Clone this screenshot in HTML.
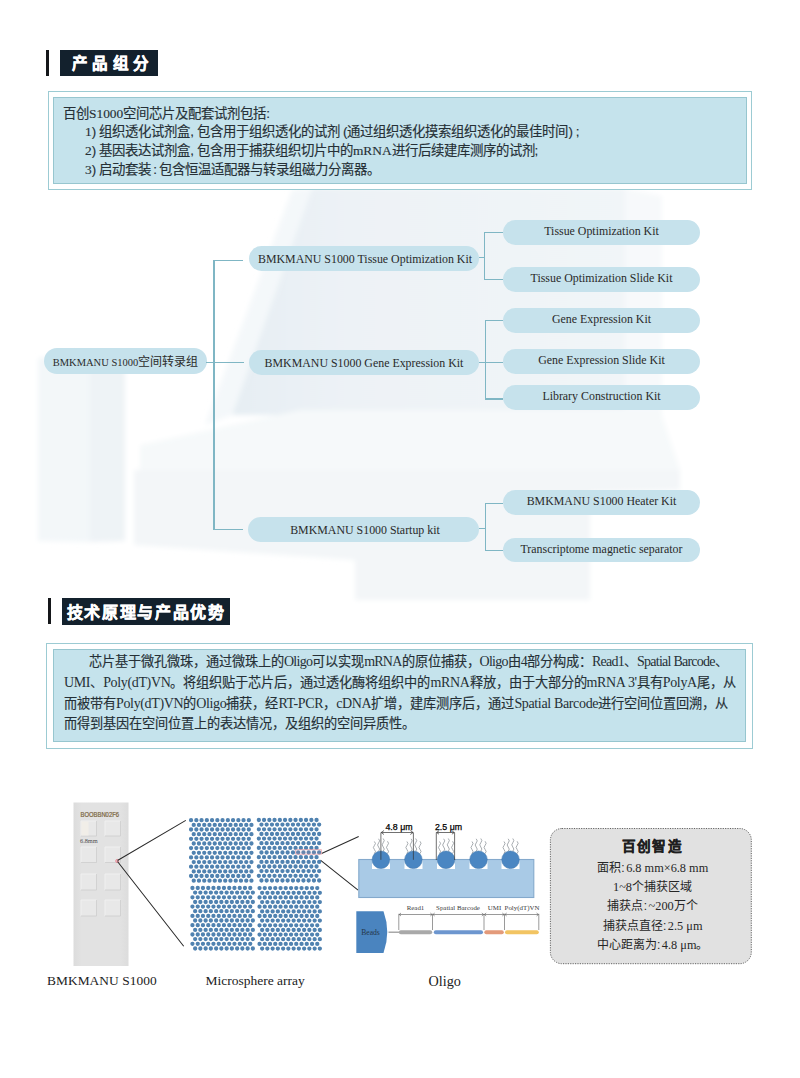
<!DOCTYPE html>
<html lang="zh-CN"><head><meta charset="utf-8">
<style>
*{margin:0;padding:0;box-sizing:border-box}
html,body{width:800px;height:1078px;overflow:hidden;background:#fff}
body{position:relative;font-family:"Liberation Sans",sans-serif;color:#222}
.abs{position:absolute}
.bar{position:absolute;background:#15171a}
.hbox{position:absolute;background:#13212d;color:#fff;font-weight:bold;white-space:nowrap;-webkit-text-stroke:0.45px #fff}
.obox{position:absolute;border:1.5px solid #9ccbd3;background:#fff}
.ibox{position:absolute;border:1.5px solid #97c6cf;background:#c5e3ec}
.ln{position:absolute;white-space:nowrap;font-size:13.4px;line-height:16px;color:#263036;-webkit-text-stroke:0.15px #263036}
.pill{position:absolute;background:#c6e2ec;border-radius:13px;padding-top:1px;font-family:"Liberation Serif",serif;font-size:11.9px;color:#2a2a2a;text-align:center;white-space:nowrap}
.pill.r{padding-top:0;line-height:23.6px !important}
.vl{position:absolute;background:#7fb6c4;width:1.4px}
.hl{position:absolute;background:#7fb6c4;height:1.4px}
.info{left:552px;width:201px;text-align:center;font-size:12px;line-height:18px;color:#262626;white-space:nowrap}
.info .s{font-size:12.3px}
.ic{margin:0 1.5px 0 0.5px}
.s{font-family:"Liberation Serif",serif}
.e{font-family:"Liberation Serif",serif;font-size:14px;letter-spacing:-0.35px;-webkit-text-stroke:0}
.pr{margin-right:3px}.pl{margin-left:3px}.pc{margin:0 2px}
.cap{position:absolute;font-family:"Liberation Serif",serif;font-size:14.2px;color:#222;white-space:nowrap;line-height:16px}
</style></head>
<body>
<!-- faint background product image -->
<svg class="abs" style="left:0;top:0" width="800" height="1078">
<defs><filter id="bl" x="-10%" y="-10%" width="120%" height="120%"><feGaussianBlur stdDeviation="2.5"/></filter>
<linearGradient id="lidg" x1="0" y1="0" x2="1" y2="0"><stop offset="0" stop-color="#e6eef3"/><stop offset="0.3" stop-color="#edf2f6"/><stop offset="1" stop-color="#f1f5f8"/></linearGradient></defs>
<g filter="url(#bl)">
<polygon points="312,188 625,188 625,415 232,415" fill="url(#lidg)"/>
<polygon points="292,190 312,188 232,415 205,425" fill="#f4f8fa"/>
<polygon points="625,188 662,196 662,440 625,440" fill="#f7f9fb"/>
<polygon points="140,445 300,410 660,410 680,470 140,470" fill="#f6f9fa"/>
<polygon points="134,470 680,470 680,490 590,492 355,560 134,545" fill="#f3f6f8"/>
<polygon points="38,358 90,352 90,542 38,541" fill="#f3f7f9"/>
<polygon points="90,352 125,358 125,541 90,542" fill="#eef3f6"/>
<polygon points="355,492 590,492 590,600 355,600" fill="#f3f6f8"/>
</g>
</svg>

<!-- Section 1 header -->
<div class="bar" style="left:46px;top:49.5px;width:3px;height:26.5px"></div>
<div class="hbox" style="left:60px;top:49.5px;width:97.5px;height:26.5px;font-size:15.5px;line-height:28px;padding-left:12px;letter-spacing:4.4px;font-weight:900">产品组分</div>

<!-- Section 1 box -->
<div class="obox" style="left:48px;top:91px;width:704px;height:99px"></div>
<div class="ibox" style="left:53px;top:97px;width:694px;height:87px"></div>
<div class="ln" style="left:63px;top:106px">百创<span class="s">S1000</span>空间芯片及配套试剂包括:</div>
<div class="ln" style="left:85px;top:124px"><span class="s">1</span><span class="pr">)</span>组织透化试剂盒<span class="pr">,</span>包含用于组织透化的试剂<span class="pl">(</span>通过组织透化摸索组织透化的最佳时间<span class="pr">)</span>;</div>
<div class="ln" style="left:85px;top:143px"><span class="s">2</span><span class="pr">)</span>基因表达试剂盒<span class="pr">,</span>包含用于捕获组织切片中的<span class="s">mRNA</span>进行后续建库测序的试剂;</div>
<div class="ln" style="left:85px;top:162px"><span class="s">3</span><span class="pr">)</span>启动套装<span class="pc">:</span>包含恒温适配器与转录组磁力分离器。</div>

<!-- Diagram -->
<div class="pill" style="left:43.5px;top:348px;width:163px;height:26px;line-height:26px;font-size:10.5px;padding-left:1px">BMKMANU S1000<span style="font-family:'Liberation Sans',sans-serif;font-size:12px">空间转录组</span></div>
<div class="hl" style="left:206px;top:361.9px;width:38px"></div>
<div class="vl" style="left:213.3px;top:259.8px;height:270px"></div>
<div class="hl" style="left:213.3px;top:259.8px;width:30px"></div>
<div class="hl" style="left:213.3px;top:528.5px;width:30px"></div>

<div class="pill" style="left:249px;top:246px;width:230px;height:25px;line-height:25px;padding-left:2px">BMKMANU S1000 Tissue Optimization Kit</div>
<div class="pill" style="left:249px;top:350px;width:230px;height:25px;line-height:25px">BMKMANU S1000 Gene Expression Kit</div>
<div class="pill" style="left:248px;top:517px;width:231px;height:25px;line-height:25px;padding-left:3px">BMKMANU S1000 Startup kit</div>

<div class="hl" style="left:479px;top:256.7px;width:6px"></div>
<div class="vl" style="left:483.7px;top:231.7px;height:48.4px"></div>
<div class="hl" style="left:483.7px;top:231.7px;width:19px"></div>
<div class="hl" style="left:483.7px;top:278.8px;width:19px"></div>

<div class="hl" style="left:479px;top:361.9px;width:24px"></div>
<div class="vl" style="left:485px;top:319.9px;height:79.8px"></div>
<div class="hl" style="left:485px;top:319.9px;width:18px"></div>
<div class="hl" style="left:485px;top:398.4px;width:18px"></div>

<div class="hl" style="left:479px;top:528px;width:6px"></div>
<div class="vl" style="left:485px;top:503px;height:48.3px"></div>
<div class="hl" style="left:485px;top:503px;width:18px"></div>
<div class="hl" style="left:485px;top:550px;width:18px"></div>

<div class="pill r" style="left:503px;top:220px;width:197px;height:25px;line-height:25px">Tissue Optimization Kit</div>
<div class="pill r" style="left:503px;top:267px;width:197px;height:24.5px;line-height:24.5px">Tissue Optimization Slide Kit</div>
<div class="pill r" style="left:503px;top:307.5px;width:197px;height:25px;line-height:25px">Gene Expression Kit</div>
<div class="pill r" style="left:503px;top:349px;width:197px;height:24.5px;line-height:24.5px">Gene Expression Slide Kit</div>
<div class="pill r" style="left:503px;top:385px;width:197px;height:25px;line-height:25px">Library Construction Kit</div>
<div class="pill r" style="left:503px;top:490px;width:197px;height:25px;line-height:25px">BMKMANU S1000 Heater Kit</div>
<div class="pill r" style="left:503px;top:537.5px;width:197px;height:24.5px;line-height:24.5px">Transcriptome magnetic separator</div>

<!-- Section 2 header -->
<div class="bar" style="left:47.5px;top:598px;width:3px;height:26px"></div>
<div class="hbox" style="left:61.5px;top:597.5px;width:168.5px;height:27px;font-size:16px;line-height:29.5px;padding-left:5px;letter-spacing:1.7px">技术原理与产品优势</div>

<!-- Section 2 box -->
<div class="obox" style="left:45.5px;top:642.5px;width:707px;height:106.5px"></div>
<div class="ibox" style="left:53px;top:649px;width:692.5px;height:92.5px"></div>
<div class="ln" style="left:89px;top:653.5px;font-size:13.2px">芯片基于微孔微珠，通过微珠上的<span class="e" style="letter-spacing:-0.75px">Oligo</span>可以实现<span class="e" style="letter-spacing:-0.75px">mRNA</span>的原位捕获，<span class="e" style="letter-spacing:-0.75px">Oligo</span>由<span class="e" style="letter-spacing:-0.75px">4</span>部分构成：<span class="e" style="letter-spacing:-0.75px">Read1</span>、<span class="e" style="letter-spacing:-0.75px">Spatial Barcode</span>、</div>
<div class="ln" style="left:64px;top:675px;font-size:13.2px"><span class="e">UMI</span>、<span class="e">Poly(dT)VN</span>。将组织贴于芯片后，通过透化酶将组织中的<span class="e">mRNA</span>释放，由于大部分的<span class="e">mRNA 3'</span>具有<span class="e">PolyA</span>尾，从</div>
<div class="ln" style="left:64px;top:695.5px;font-size:13.2px">而被带有<span class="e">Poly(dT)VN</span>的<span class="e">Oligo</span>捕获，经<span class="e">RT-PCR</span>，<span class="e">cDNA</span>扩增，建库测序后，通过<span class="e">Spatial Barcode</span>进行空间位置回溯，从</div>
<div class="ln" style="left:64px;top:716.3px;font-size:13.2px">而得到基因在空间位置上的表达情况，及组织的空间异质性。</div>

<!-- Bottom figure -->
<!--FIG--><svg class="abs" style="left:0;top:0" width="800" height="1078" viewBox="0 0 800 1078">
<defs>
<linearGradient id="slg" x1="0" y1="0" x2="1" y2="0"><stop offset="0" stop-color="#dcdcdc"/><stop offset="0.15" stop-color="#e2e2e2"/><stop offset="0.85" stop-color="#e2e2e2"/><stop offset="1" stop-color="#dcdcdc"/></linearGradient>
</defs>
<!-- slide -->
<rect x="73.5" y="802.5" width="55" height="163.5" fill="url(#slg)"/>
<text x="80.5" y="817" font-family="Liberation Sans" font-size="6.3" fill="#7a6440" stroke="#7a6440" stroke-width="0.2" textLength="38.5" lengthAdjust="spacingAndGlyphs">BOOBBN02F6</text>
<g><rect x="81" y="821" width="15.5" height="15" fill="#e8e8e8"/><path d="M81 836V821H96.5" stroke="#f2f2f2" stroke-width="0.9" fill="none"/><path d="M81 836H96.5V821" stroke="#cdcdcd" stroke-width="0.8" fill="none"/><rect x="105" y="821" width="15.5" height="15" fill="#e8e8e8"/><path d="M105 836V821H120.5" stroke="#f2f2f2" stroke-width="0.9" fill="none"/><path d="M105 836H120.5V821" stroke="#cdcdcd" stroke-width="0.8" fill="none"/><rect x="81" y="847" width="15.5" height="15.5" fill="#e8e8e8"/><path d="M81 862.5V847H96.5" stroke="#f2f2f2" stroke-width="0.9" fill="none"/><path d="M81 862.5H96.5V847" stroke="#cdcdcd" stroke-width="0.8" fill="none"/><rect x="105" y="847" width="15.5" height="15.5" fill="#e8e8e8"/><path d="M105 862.5V847H120.5" stroke="#f2f2f2" stroke-width="0.9" fill="none"/><path d="M105 862.5H120.5V847" stroke="#cdcdcd" stroke-width="0.8" fill="none"/><rect x="81" y="874" width="15.5" height="16" fill="#e8e8e8"/><path d="M81 890V874H96.5" stroke="#f2f2f2" stroke-width="0.9" fill="none"/><path d="M81 890H96.5V874" stroke="#cdcdcd" stroke-width="0.8" fill="none"/><rect x="105" y="874" width="15.5" height="16" fill="#e8e8e8"/><path d="M105 890V874H120.5" stroke="#f2f2f2" stroke-width="0.9" fill="none"/><path d="M105 890H120.5V874" stroke="#cdcdcd" stroke-width="0.8" fill="none"/><rect x="81" y="900" width="15.5" height="16" fill="#e8e8e8"/><path d="M81 916V900H96.5" stroke="#f2f2f2" stroke-width="0.9" fill="none"/><path d="M81 916H96.5V900" stroke="#cdcdcd" stroke-width="0.8" fill="none"/><rect x="105" y="900" width="15.5" height="16" fill="#e8e8e8"/><path d="M105 916V900H120.5" stroke="#f2f2f2" stroke-width="0.9" fill="none"/><path d="M105 916H120.5V900" stroke="#cdcdcd" stroke-width="0.8" fill="none"/></g>
<rect x="81.5" y="821.5" width="7" height="14" fill="#f1eee8"/>
<text x="80" y="842.5" font-family="Liberation Serif" font-size="6.3" fill="#505050">6.8mm</text>
<circle cx="117.2" cy="861" r="1.6" fill="#f4b8c0" stroke="#e07080" stroke-width="0.6"/>
<g stroke="#2b2b2b" stroke-width="1.05" fill="none">
<path d="M117.5 860.5L185.8 820.4M117.5 861.5L183.7 946.3"/>
<path d="M321.6 853.5L358.7 836.5M320.4 860.1L358.1 890.2"/>
</g>
<!-- microsphere array -->
<path fill="#5082b0" d="M188.9 820.2a2.15 2.15 0 1 0 4.3 0a2.15 2.15 0 1 0 -4.3 0M194.2 820.2a2.15 2.15 0 1 0 4.3 0a2.15 2.15 0 1 0 -4.3 0M199.4 820.2a2.15 2.15 0 1 0 4.3 0a2.15 2.15 0 1 0 -4.3 0M204.7 820.2a2.15 2.15 0 1 0 4.3 0a2.15 2.15 0 1 0 -4.3 0M209.9 820.2a2.15 2.15 0 1 0 4.3 0a2.15 2.15 0 1 0 -4.3 0M215.2 820.2a2.15 2.15 0 1 0 4.3 0a2.15 2.15 0 1 0 -4.3 0M220.4 820.2a2.15 2.15 0 1 0 4.3 0a2.15 2.15 0 1 0 -4.3 0M225.7 820.2a2.15 2.15 0 1 0 4.3 0a2.15 2.15 0 1 0 -4.3 0M230.9 820.2a2.15 2.15 0 1 0 4.3 0a2.15 2.15 0 1 0 -4.3 0M236.2 820.2a2.15 2.15 0 1 0 4.3 0a2.15 2.15 0 1 0 -4.3 0M241.4 820.2a2.15 2.15 0 1 0 4.3 0a2.15 2.15 0 1 0 -4.3 0M246.7 820.2a2.15 2.15 0 1 0 4.3 0a2.15 2.15 0 1 0 -4.3 0M191.6 824.9a2.15 2.15 0 1 0 4.3 0a2.15 2.15 0 1 0 -4.3 0M196.8 824.9a2.15 2.15 0 1 0 4.3 0a2.15 2.15 0 1 0 -4.3 0M202.1 824.9a2.15 2.15 0 1 0 4.3 0a2.15 2.15 0 1 0 -4.3 0M207.3 824.9a2.15 2.15 0 1 0 4.3 0a2.15 2.15 0 1 0 -4.3 0M212.6 824.9a2.15 2.15 0 1 0 4.3 0a2.15 2.15 0 1 0 -4.3 0M217.8 824.9a2.15 2.15 0 1 0 4.3 0a2.15 2.15 0 1 0 -4.3 0M223.1 824.9a2.15 2.15 0 1 0 4.3 0a2.15 2.15 0 1 0 -4.3 0M228.3 824.9a2.15 2.15 0 1 0 4.3 0a2.15 2.15 0 1 0 -4.3 0M233.6 824.9a2.15 2.15 0 1 0 4.3 0a2.15 2.15 0 1 0 -4.3 0M238.8 824.9a2.15 2.15 0 1 0 4.3 0a2.15 2.15 0 1 0 -4.3 0M244.1 824.9a2.15 2.15 0 1 0 4.3 0a2.15 2.15 0 1 0 -4.3 0M249.3 824.9a2.15 2.15 0 1 0 4.3 0a2.15 2.15 0 1 0 -4.3 0M188.9 829.5a2.15 2.15 0 1 0 4.3 0a2.15 2.15 0 1 0 -4.3 0M194.2 829.5a2.15 2.15 0 1 0 4.3 0a2.15 2.15 0 1 0 -4.3 0M199.4 829.5a2.15 2.15 0 1 0 4.3 0a2.15 2.15 0 1 0 -4.3 0M204.7 829.5a2.15 2.15 0 1 0 4.3 0a2.15 2.15 0 1 0 -4.3 0M209.9 829.5a2.15 2.15 0 1 0 4.3 0a2.15 2.15 0 1 0 -4.3 0M215.2 829.5a2.15 2.15 0 1 0 4.3 0a2.15 2.15 0 1 0 -4.3 0M220.4 829.5a2.15 2.15 0 1 0 4.3 0a2.15 2.15 0 1 0 -4.3 0M225.7 829.5a2.15 2.15 0 1 0 4.3 0a2.15 2.15 0 1 0 -4.3 0M230.9 829.5a2.15 2.15 0 1 0 4.3 0a2.15 2.15 0 1 0 -4.3 0M236.2 829.5a2.15 2.15 0 1 0 4.3 0a2.15 2.15 0 1 0 -4.3 0M241.4 829.5a2.15 2.15 0 1 0 4.3 0a2.15 2.15 0 1 0 -4.3 0M246.7 829.5a2.15 2.15 0 1 0 4.3 0a2.15 2.15 0 1 0 -4.3 0M191.6 834.2a2.15 2.15 0 1 0 4.3 0a2.15 2.15 0 1 0 -4.3 0M196.8 834.2a2.15 2.15 0 1 0 4.3 0a2.15 2.15 0 1 0 -4.3 0M202.1 834.2a2.15 2.15 0 1 0 4.3 0a2.15 2.15 0 1 0 -4.3 0M207.3 834.2a2.15 2.15 0 1 0 4.3 0a2.15 2.15 0 1 0 -4.3 0M212.6 834.2a2.15 2.15 0 1 0 4.3 0a2.15 2.15 0 1 0 -4.3 0M217.8 834.2a2.15 2.15 0 1 0 4.3 0a2.15 2.15 0 1 0 -4.3 0M223.1 834.2a2.15 2.15 0 1 0 4.3 0a2.15 2.15 0 1 0 -4.3 0M228.3 834.2a2.15 2.15 0 1 0 4.3 0a2.15 2.15 0 1 0 -4.3 0M233.6 834.2a2.15 2.15 0 1 0 4.3 0a2.15 2.15 0 1 0 -4.3 0M238.8 834.2a2.15 2.15 0 1 0 4.3 0a2.15 2.15 0 1 0 -4.3 0M244.1 834.2a2.15 2.15 0 1 0 4.3 0a2.15 2.15 0 1 0 -4.3 0M249.3 834.2a2.15 2.15 0 1 0 4.3 0a2.15 2.15 0 1 0 -4.3 0M188.9 838.8a2.15 2.15 0 1 0 4.3 0a2.15 2.15 0 1 0 -4.3 0M194.2 838.8a2.15 2.15 0 1 0 4.3 0a2.15 2.15 0 1 0 -4.3 0M199.4 838.8a2.15 2.15 0 1 0 4.3 0a2.15 2.15 0 1 0 -4.3 0M204.7 838.8a2.15 2.15 0 1 0 4.3 0a2.15 2.15 0 1 0 -4.3 0M209.9 838.8a2.15 2.15 0 1 0 4.3 0a2.15 2.15 0 1 0 -4.3 0M215.2 838.8a2.15 2.15 0 1 0 4.3 0a2.15 2.15 0 1 0 -4.3 0M220.4 838.8a2.15 2.15 0 1 0 4.3 0a2.15 2.15 0 1 0 -4.3 0M225.7 838.8a2.15 2.15 0 1 0 4.3 0a2.15 2.15 0 1 0 -4.3 0M230.9 838.8a2.15 2.15 0 1 0 4.3 0a2.15 2.15 0 1 0 -4.3 0M236.2 838.8a2.15 2.15 0 1 0 4.3 0a2.15 2.15 0 1 0 -4.3 0M241.4 838.8a2.15 2.15 0 1 0 4.3 0a2.15 2.15 0 1 0 -4.3 0M246.7 838.8a2.15 2.15 0 1 0 4.3 0a2.15 2.15 0 1 0 -4.3 0M191.6 843.5a2.15 2.15 0 1 0 4.3 0a2.15 2.15 0 1 0 -4.3 0M196.8 843.5a2.15 2.15 0 1 0 4.3 0a2.15 2.15 0 1 0 -4.3 0M202.1 843.5a2.15 2.15 0 1 0 4.3 0a2.15 2.15 0 1 0 -4.3 0M207.3 843.5a2.15 2.15 0 1 0 4.3 0a2.15 2.15 0 1 0 -4.3 0M212.6 843.5a2.15 2.15 0 1 0 4.3 0a2.15 2.15 0 1 0 -4.3 0M217.8 843.5a2.15 2.15 0 1 0 4.3 0a2.15 2.15 0 1 0 -4.3 0M223.1 843.5a2.15 2.15 0 1 0 4.3 0a2.15 2.15 0 1 0 -4.3 0M228.3 843.5a2.15 2.15 0 1 0 4.3 0a2.15 2.15 0 1 0 -4.3 0M233.6 843.5a2.15 2.15 0 1 0 4.3 0a2.15 2.15 0 1 0 -4.3 0M238.8 843.5a2.15 2.15 0 1 0 4.3 0a2.15 2.15 0 1 0 -4.3 0M244.1 843.5a2.15 2.15 0 1 0 4.3 0a2.15 2.15 0 1 0 -4.3 0M249.3 843.5a2.15 2.15 0 1 0 4.3 0a2.15 2.15 0 1 0 -4.3 0M188.9 848.1a2.15 2.15 0 1 0 4.3 0a2.15 2.15 0 1 0 -4.3 0M194.2 848.1a2.15 2.15 0 1 0 4.3 0a2.15 2.15 0 1 0 -4.3 0M199.4 848.1a2.15 2.15 0 1 0 4.3 0a2.15 2.15 0 1 0 -4.3 0M204.7 848.1a2.15 2.15 0 1 0 4.3 0a2.15 2.15 0 1 0 -4.3 0M209.9 848.1a2.15 2.15 0 1 0 4.3 0a2.15 2.15 0 1 0 -4.3 0M215.2 848.1a2.15 2.15 0 1 0 4.3 0a2.15 2.15 0 1 0 -4.3 0M220.4 848.1a2.15 2.15 0 1 0 4.3 0a2.15 2.15 0 1 0 -4.3 0M225.7 848.1a2.15 2.15 0 1 0 4.3 0a2.15 2.15 0 1 0 -4.3 0M230.9 848.1a2.15 2.15 0 1 0 4.3 0a2.15 2.15 0 1 0 -4.3 0M236.2 848.1a2.15 2.15 0 1 0 4.3 0a2.15 2.15 0 1 0 -4.3 0M241.4 848.1a2.15 2.15 0 1 0 4.3 0a2.15 2.15 0 1 0 -4.3 0M246.7 848.1a2.15 2.15 0 1 0 4.3 0a2.15 2.15 0 1 0 -4.3 0M191.6 852.8a2.15 2.15 0 1 0 4.3 0a2.15 2.15 0 1 0 -4.3 0M196.8 852.8a2.15 2.15 0 1 0 4.3 0a2.15 2.15 0 1 0 -4.3 0M202.1 852.8a2.15 2.15 0 1 0 4.3 0a2.15 2.15 0 1 0 -4.3 0M207.3 852.8a2.15 2.15 0 1 0 4.3 0a2.15 2.15 0 1 0 -4.3 0M212.6 852.8a2.15 2.15 0 1 0 4.3 0a2.15 2.15 0 1 0 -4.3 0M217.8 852.8a2.15 2.15 0 1 0 4.3 0a2.15 2.15 0 1 0 -4.3 0M223.1 852.8a2.15 2.15 0 1 0 4.3 0a2.15 2.15 0 1 0 -4.3 0M228.3 852.8a2.15 2.15 0 1 0 4.3 0a2.15 2.15 0 1 0 -4.3 0M233.6 852.8a2.15 2.15 0 1 0 4.3 0a2.15 2.15 0 1 0 -4.3 0M238.8 852.8a2.15 2.15 0 1 0 4.3 0a2.15 2.15 0 1 0 -4.3 0M244.1 852.8a2.15 2.15 0 1 0 4.3 0a2.15 2.15 0 1 0 -4.3 0M249.3 852.8a2.15 2.15 0 1 0 4.3 0a2.15 2.15 0 1 0 -4.3 0M188.9 857.4a2.15 2.15 0 1 0 4.3 0a2.15 2.15 0 1 0 -4.3 0M194.2 857.4a2.15 2.15 0 1 0 4.3 0a2.15 2.15 0 1 0 -4.3 0M199.4 857.4a2.15 2.15 0 1 0 4.3 0a2.15 2.15 0 1 0 -4.3 0M204.7 857.4a2.15 2.15 0 1 0 4.3 0a2.15 2.15 0 1 0 -4.3 0M209.9 857.4a2.15 2.15 0 1 0 4.3 0a2.15 2.15 0 1 0 -4.3 0M215.2 857.4a2.15 2.15 0 1 0 4.3 0a2.15 2.15 0 1 0 -4.3 0M220.4 857.4a2.15 2.15 0 1 0 4.3 0a2.15 2.15 0 1 0 -4.3 0M225.7 857.4a2.15 2.15 0 1 0 4.3 0a2.15 2.15 0 1 0 -4.3 0M230.9 857.4a2.15 2.15 0 1 0 4.3 0a2.15 2.15 0 1 0 -4.3 0M236.2 857.4a2.15 2.15 0 1 0 4.3 0a2.15 2.15 0 1 0 -4.3 0M241.4 857.4a2.15 2.15 0 1 0 4.3 0a2.15 2.15 0 1 0 -4.3 0M246.7 857.4a2.15 2.15 0 1 0 4.3 0a2.15 2.15 0 1 0 -4.3 0M191.6 862.1a2.15 2.15 0 1 0 4.3 0a2.15 2.15 0 1 0 -4.3 0M196.8 862.1a2.15 2.15 0 1 0 4.3 0a2.15 2.15 0 1 0 -4.3 0M202.1 862.1a2.15 2.15 0 1 0 4.3 0a2.15 2.15 0 1 0 -4.3 0M207.3 862.1a2.15 2.15 0 1 0 4.3 0a2.15 2.15 0 1 0 -4.3 0M212.6 862.1a2.15 2.15 0 1 0 4.3 0a2.15 2.15 0 1 0 -4.3 0M217.8 862.1a2.15 2.15 0 1 0 4.3 0a2.15 2.15 0 1 0 -4.3 0M223.1 862.1a2.15 2.15 0 1 0 4.3 0a2.15 2.15 0 1 0 -4.3 0M228.3 862.1a2.15 2.15 0 1 0 4.3 0a2.15 2.15 0 1 0 -4.3 0M233.6 862.1a2.15 2.15 0 1 0 4.3 0a2.15 2.15 0 1 0 -4.3 0M238.8 862.1a2.15 2.15 0 1 0 4.3 0a2.15 2.15 0 1 0 -4.3 0M244.1 862.1a2.15 2.15 0 1 0 4.3 0a2.15 2.15 0 1 0 -4.3 0M249.3 862.1a2.15 2.15 0 1 0 4.3 0a2.15 2.15 0 1 0 -4.3 0M188.9 866.7a2.15 2.15 0 1 0 4.3 0a2.15 2.15 0 1 0 -4.3 0M194.2 866.7a2.15 2.15 0 1 0 4.3 0a2.15 2.15 0 1 0 -4.3 0M199.4 866.7a2.15 2.15 0 1 0 4.3 0a2.15 2.15 0 1 0 -4.3 0M204.7 866.7a2.15 2.15 0 1 0 4.3 0a2.15 2.15 0 1 0 -4.3 0M209.9 866.7a2.15 2.15 0 1 0 4.3 0a2.15 2.15 0 1 0 -4.3 0M215.2 866.7a2.15 2.15 0 1 0 4.3 0a2.15 2.15 0 1 0 -4.3 0M220.4 866.7a2.15 2.15 0 1 0 4.3 0a2.15 2.15 0 1 0 -4.3 0M225.7 866.7a2.15 2.15 0 1 0 4.3 0a2.15 2.15 0 1 0 -4.3 0M230.9 866.7a2.15 2.15 0 1 0 4.3 0a2.15 2.15 0 1 0 -4.3 0M236.2 866.7a2.15 2.15 0 1 0 4.3 0a2.15 2.15 0 1 0 -4.3 0M241.4 866.7a2.15 2.15 0 1 0 4.3 0a2.15 2.15 0 1 0 -4.3 0M246.7 866.7a2.15 2.15 0 1 0 4.3 0a2.15 2.15 0 1 0 -4.3 0M191.6 871.4a2.15 2.15 0 1 0 4.3 0a2.15 2.15 0 1 0 -4.3 0M196.8 871.4a2.15 2.15 0 1 0 4.3 0a2.15 2.15 0 1 0 -4.3 0M202.1 871.4a2.15 2.15 0 1 0 4.3 0a2.15 2.15 0 1 0 -4.3 0M207.3 871.4a2.15 2.15 0 1 0 4.3 0a2.15 2.15 0 1 0 -4.3 0M212.6 871.4a2.15 2.15 0 1 0 4.3 0a2.15 2.15 0 1 0 -4.3 0M217.8 871.4a2.15 2.15 0 1 0 4.3 0a2.15 2.15 0 1 0 -4.3 0M223.1 871.4a2.15 2.15 0 1 0 4.3 0a2.15 2.15 0 1 0 -4.3 0M228.3 871.4a2.15 2.15 0 1 0 4.3 0a2.15 2.15 0 1 0 -4.3 0M233.6 871.4a2.15 2.15 0 1 0 4.3 0a2.15 2.15 0 1 0 -4.3 0M238.8 871.4a2.15 2.15 0 1 0 4.3 0a2.15 2.15 0 1 0 -4.3 0M244.1 871.4a2.15 2.15 0 1 0 4.3 0a2.15 2.15 0 1 0 -4.3 0M249.3 871.4a2.15 2.15 0 1 0 4.3 0a2.15 2.15 0 1 0 -4.3 0M188.9 876.0a2.15 2.15 0 1 0 4.3 0a2.15 2.15 0 1 0 -4.3 0M194.2 876.0a2.15 2.15 0 1 0 4.3 0a2.15 2.15 0 1 0 -4.3 0M199.4 876.0a2.15 2.15 0 1 0 4.3 0a2.15 2.15 0 1 0 -4.3 0M204.7 876.0a2.15 2.15 0 1 0 4.3 0a2.15 2.15 0 1 0 -4.3 0M209.9 876.0a2.15 2.15 0 1 0 4.3 0a2.15 2.15 0 1 0 -4.3 0M215.2 876.0a2.15 2.15 0 1 0 4.3 0a2.15 2.15 0 1 0 -4.3 0M220.4 876.0a2.15 2.15 0 1 0 4.3 0a2.15 2.15 0 1 0 -4.3 0M225.7 876.0a2.15 2.15 0 1 0 4.3 0a2.15 2.15 0 1 0 -4.3 0M230.9 876.0a2.15 2.15 0 1 0 4.3 0a2.15 2.15 0 1 0 -4.3 0M236.2 876.0a2.15 2.15 0 1 0 4.3 0a2.15 2.15 0 1 0 -4.3 0M241.4 876.0a2.15 2.15 0 1 0 4.3 0a2.15 2.15 0 1 0 -4.3 0M246.7 876.0a2.15 2.15 0 1 0 4.3 0a2.15 2.15 0 1 0 -4.3 0M191.6 880.7a2.15 2.15 0 1 0 4.3 0a2.15 2.15 0 1 0 -4.3 0M196.8 880.7a2.15 2.15 0 1 0 4.3 0a2.15 2.15 0 1 0 -4.3 0M202.1 880.7a2.15 2.15 0 1 0 4.3 0a2.15 2.15 0 1 0 -4.3 0M207.3 880.7a2.15 2.15 0 1 0 4.3 0a2.15 2.15 0 1 0 -4.3 0M212.6 880.7a2.15 2.15 0 1 0 4.3 0a2.15 2.15 0 1 0 -4.3 0M217.8 880.7a2.15 2.15 0 1 0 4.3 0a2.15 2.15 0 1 0 -4.3 0M223.1 880.7a2.15 2.15 0 1 0 4.3 0a2.15 2.15 0 1 0 -4.3 0M228.3 880.7a2.15 2.15 0 1 0 4.3 0a2.15 2.15 0 1 0 -4.3 0M233.6 880.7a2.15 2.15 0 1 0 4.3 0a2.15 2.15 0 1 0 -4.3 0M238.8 880.7a2.15 2.15 0 1 0 4.3 0a2.15 2.15 0 1 0 -4.3 0M244.1 880.7a2.15 2.15 0 1 0 4.3 0a2.15 2.15 0 1 0 -4.3 0M249.3 880.7a2.15 2.15 0 1 0 4.3 0a2.15 2.15 0 1 0 -4.3 0M256.7 820.0a2.15 2.15 0 1 0 4.3 0a2.15 2.15 0 1 0 -4.3 0M261.9 820.0a2.15 2.15 0 1 0 4.3 0a2.15 2.15 0 1 0 -4.3 0M267.2 820.0a2.15 2.15 0 1 0 4.3 0a2.15 2.15 0 1 0 -4.3 0M272.4 820.0a2.15 2.15 0 1 0 4.3 0a2.15 2.15 0 1 0 -4.3 0M277.7 820.0a2.15 2.15 0 1 0 4.3 0a2.15 2.15 0 1 0 -4.3 0M282.9 820.0a2.15 2.15 0 1 0 4.3 0a2.15 2.15 0 1 0 -4.3 0M288.2 820.0a2.15 2.15 0 1 0 4.3 0a2.15 2.15 0 1 0 -4.3 0M293.4 820.0a2.15 2.15 0 1 0 4.3 0a2.15 2.15 0 1 0 -4.3 0M298.7 820.0a2.15 2.15 0 1 0 4.3 0a2.15 2.15 0 1 0 -4.3 0M303.9 820.0a2.15 2.15 0 1 0 4.3 0a2.15 2.15 0 1 0 -4.3 0M309.2 820.0a2.15 2.15 0 1 0 4.3 0a2.15 2.15 0 1 0 -4.3 0M314.4 820.0a2.15 2.15 0 1 0 4.3 0a2.15 2.15 0 1 0 -4.3 0M259.3 824.6a2.15 2.15 0 1 0 4.3 0a2.15 2.15 0 1 0 -4.3 0M264.5 824.6a2.15 2.15 0 1 0 4.3 0a2.15 2.15 0 1 0 -4.3 0M269.8 824.6a2.15 2.15 0 1 0 4.3 0a2.15 2.15 0 1 0 -4.3 0M275.0 824.6a2.15 2.15 0 1 0 4.3 0a2.15 2.15 0 1 0 -4.3 0M280.3 824.6a2.15 2.15 0 1 0 4.3 0a2.15 2.15 0 1 0 -4.3 0M285.5 824.6a2.15 2.15 0 1 0 4.3 0a2.15 2.15 0 1 0 -4.3 0M290.8 824.6a2.15 2.15 0 1 0 4.3 0a2.15 2.15 0 1 0 -4.3 0M296.0 824.6a2.15 2.15 0 1 0 4.3 0a2.15 2.15 0 1 0 -4.3 0M301.3 824.6a2.15 2.15 0 1 0 4.3 0a2.15 2.15 0 1 0 -4.3 0M306.5 824.6a2.15 2.15 0 1 0 4.3 0a2.15 2.15 0 1 0 -4.3 0M311.8 824.6a2.15 2.15 0 1 0 4.3 0a2.15 2.15 0 1 0 -4.3 0M317.0 824.6a2.15 2.15 0 1 0 4.3 0a2.15 2.15 0 1 0 -4.3 0M256.7 829.3a2.15 2.15 0 1 0 4.3 0a2.15 2.15 0 1 0 -4.3 0M261.9 829.3a2.15 2.15 0 1 0 4.3 0a2.15 2.15 0 1 0 -4.3 0M267.2 829.3a2.15 2.15 0 1 0 4.3 0a2.15 2.15 0 1 0 -4.3 0M272.4 829.3a2.15 2.15 0 1 0 4.3 0a2.15 2.15 0 1 0 -4.3 0M277.7 829.3a2.15 2.15 0 1 0 4.3 0a2.15 2.15 0 1 0 -4.3 0M282.9 829.3a2.15 2.15 0 1 0 4.3 0a2.15 2.15 0 1 0 -4.3 0M288.2 829.3a2.15 2.15 0 1 0 4.3 0a2.15 2.15 0 1 0 -4.3 0M293.4 829.3a2.15 2.15 0 1 0 4.3 0a2.15 2.15 0 1 0 -4.3 0M298.7 829.3a2.15 2.15 0 1 0 4.3 0a2.15 2.15 0 1 0 -4.3 0M303.9 829.3a2.15 2.15 0 1 0 4.3 0a2.15 2.15 0 1 0 -4.3 0M309.2 829.3a2.15 2.15 0 1 0 4.3 0a2.15 2.15 0 1 0 -4.3 0M314.4 829.3a2.15 2.15 0 1 0 4.3 0a2.15 2.15 0 1 0 -4.3 0M259.3 834.0a2.15 2.15 0 1 0 4.3 0a2.15 2.15 0 1 0 -4.3 0M264.5 834.0a2.15 2.15 0 1 0 4.3 0a2.15 2.15 0 1 0 -4.3 0M269.8 834.0a2.15 2.15 0 1 0 4.3 0a2.15 2.15 0 1 0 -4.3 0M275.0 834.0a2.15 2.15 0 1 0 4.3 0a2.15 2.15 0 1 0 -4.3 0M280.3 834.0a2.15 2.15 0 1 0 4.3 0a2.15 2.15 0 1 0 -4.3 0M285.5 834.0a2.15 2.15 0 1 0 4.3 0a2.15 2.15 0 1 0 -4.3 0M290.8 834.0a2.15 2.15 0 1 0 4.3 0a2.15 2.15 0 1 0 -4.3 0M296.0 834.0a2.15 2.15 0 1 0 4.3 0a2.15 2.15 0 1 0 -4.3 0M301.3 834.0a2.15 2.15 0 1 0 4.3 0a2.15 2.15 0 1 0 -4.3 0M306.5 834.0a2.15 2.15 0 1 0 4.3 0a2.15 2.15 0 1 0 -4.3 0M311.8 834.0a2.15 2.15 0 1 0 4.3 0a2.15 2.15 0 1 0 -4.3 0M317.0 834.0a2.15 2.15 0 1 0 4.3 0a2.15 2.15 0 1 0 -4.3 0M256.7 838.6a2.15 2.15 0 1 0 4.3 0a2.15 2.15 0 1 0 -4.3 0M261.9 838.6a2.15 2.15 0 1 0 4.3 0a2.15 2.15 0 1 0 -4.3 0M267.2 838.6a2.15 2.15 0 1 0 4.3 0a2.15 2.15 0 1 0 -4.3 0M272.4 838.6a2.15 2.15 0 1 0 4.3 0a2.15 2.15 0 1 0 -4.3 0M277.7 838.6a2.15 2.15 0 1 0 4.3 0a2.15 2.15 0 1 0 -4.3 0M282.9 838.6a2.15 2.15 0 1 0 4.3 0a2.15 2.15 0 1 0 -4.3 0M288.2 838.6a2.15 2.15 0 1 0 4.3 0a2.15 2.15 0 1 0 -4.3 0M293.4 838.6a2.15 2.15 0 1 0 4.3 0a2.15 2.15 0 1 0 -4.3 0M298.7 838.6a2.15 2.15 0 1 0 4.3 0a2.15 2.15 0 1 0 -4.3 0M303.9 838.6a2.15 2.15 0 1 0 4.3 0a2.15 2.15 0 1 0 -4.3 0M309.2 838.6a2.15 2.15 0 1 0 4.3 0a2.15 2.15 0 1 0 -4.3 0M314.4 838.6a2.15 2.15 0 1 0 4.3 0a2.15 2.15 0 1 0 -4.3 0M259.3 843.2a2.15 2.15 0 1 0 4.3 0a2.15 2.15 0 1 0 -4.3 0M264.5 843.2a2.15 2.15 0 1 0 4.3 0a2.15 2.15 0 1 0 -4.3 0M269.8 843.2a2.15 2.15 0 1 0 4.3 0a2.15 2.15 0 1 0 -4.3 0M275.0 843.2a2.15 2.15 0 1 0 4.3 0a2.15 2.15 0 1 0 -4.3 0M280.3 843.2a2.15 2.15 0 1 0 4.3 0a2.15 2.15 0 1 0 -4.3 0M285.5 843.2a2.15 2.15 0 1 0 4.3 0a2.15 2.15 0 1 0 -4.3 0M290.8 843.2a2.15 2.15 0 1 0 4.3 0a2.15 2.15 0 1 0 -4.3 0M296.0 843.2a2.15 2.15 0 1 0 4.3 0a2.15 2.15 0 1 0 -4.3 0M301.3 843.2a2.15 2.15 0 1 0 4.3 0a2.15 2.15 0 1 0 -4.3 0M306.5 843.2a2.15 2.15 0 1 0 4.3 0a2.15 2.15 0 1 0 -4.3 0M311.8 843.2a2.15 2.15 0 1 0 4.3 0a2.15 2.15 0 1 0 -4.3 0M317.0 843.2a2.15 2.15 0 1 0 4.3 0a2.15 2.15 0 1 0 -4.3 0M256.7 847.9a2.15 2.15 0 1 0 4.3 0a2.15 2.15 0 1 0 -4.3 0M261.9 847.9a2.15 2.15 0 1 0 4.3 0a2.15 2.15 0 1 0 -4.3 0M267.2 847.9a2.15 2.15 0 1 0 4.3 0a2.15 2.15 0 1 0 -4.3 0M272.4 847.9a2.15 2.15 0 1 0 4.3 0a2.15 2.15 0 1 0 -4.3 0M277.7 847.9a2.15 2.15 0 1 0 4.3 0a2.15 2.15 0 1 0 -4.3 0M282.9 847.9a2.15 2.15 0 1 0 4.3 0a2.15 2.15 0 1 0 -4.3 0M288.2 847.9a2.15 2.15 0 1 0 4.3 0a2.15 2.15 0 1 0 -4.3 0M293.4 847.9a2.15 2.15 0 1 0 4.3 0a2.15 2.15 0 1 0 -4.3 0M298.7 847.9a2.15 2.15 0 1 0 4.3 0a2.15 2.15 0 1 0 -4.3 0M303.9 847.9a2.15 2.15 0 1 0 4.3 0a2.15 2.15 0 1 0 -4.3 0M309.2 847.9a2.15 2.15 0 1 0 4.3 0a2.15 2.15 0 1 0 -4.3 0M314.4 847.9a2.15 2.15 0 1 0 4.3 0a2.15 2.15 0 1 0 -4.3 0M259.3 852.5a2.15 2.15 0 1 0 4.3 0a2.15 2.15 0 1 0 -4.3 0M264.5 852.5a2.15 2.15 0 1 0 4.3 0a2.15 2.15 0 1 0 -4.3 0M269.8 852.5a2.15 2.15 0 1 0 4.3 0a2.15 2.15 0 1 0 -4.3 0M275.0 852.5a2.15 2.15 0 1 0 4.3 0a2.15 2.15 0 1 0 -4.3 0M280.3 852.5a2.15 2.15 0 1 0 4.3 0a2.15 2.15 0 1 0 -4.3 0M285.5 852.5a2.15 2.15 0 1 0 4.3 0a2.15 2.15 0 1 0 -4.3 0M290.8 852.5a2.15 2.15 0 1 0 4.3 0a2.15 2.15 0 1 0 -4.3 0M296.0 852.5a2.15 2.15 0 1 0 4.3 0a2.15 2.15 0 1 0 -4.3 0M301.3 852.5a2.15 2.15 0 1 0 4.3 0a2.15 2.15 0 1 0 -4.3 0M306.5 852.5a2.15 2.15 0 1 0 4.3 0a2.15 2.15 0 1 0 -4.3 0M311.8 852.5a2.15 2.15 0 1 0 4.3 0a2.15 2.15 0 1 0 -4.3 0M317.0 852.5a2.15 2.15 0 1 0 4.3 0a2.15 2.15 0 1 0 -4.3 0M256.7 857.2a2.15 2.15 0 1 0 4.3 0a2.15 2.15 0 1 0 -4.3 0M261.9 857.2a2.15 2.15 0 1 0 4.3 0a2.15 2.15 0 1 0 -4.3 0M267.2 857.2a2.15 2.15 0 1 0 4.3 0a2.15 2.15 0 1 0 -4.3 0M272.4 857.2a2.15 2.15 0 1 0 4.3 0a2.15 2.15 0 1 0 -4.3 0M277.7 857.2a2.15 2.15 0 1 0 4.3 0a2.15 2.15 0 1 0 -4.3 0M282.9 857.2a2.15 2.15 0 1 0 4.3 0a2.15 2.15 0 1 0 -4.3 0M288.2 857.2a2.15 2.15 0 1 0 4.3 0a2.15 2.15 0 1 0 -4.3 0M293.4 857.2a2.15 2.15 0 1 0 4.3 0a2.15 2.15 0 1 0 -4.3 0M298.7 857.2a2.15 2.15 0 1 0 4.3 0a2.15 2.15 0 1 0 -4.3 0M303.9 857.2a2.15 2.15 0 1 0 4.3 0a2.15 2.15 0 1 0 -4.3 0M309.2 857.2a2.15 2.15 0 1 0 4.3 0a2.15 2.15 0 1 0 -4.3 0M314.4 857.2a2.15 2.15 0 1 0 4.3 0a2.15 2.15 0 1 0 -4.3 0M259.3 861.9a2.15 2.15 0 1 0 4.3 0a2.15 2.15 0 1 0 -4.3 0M264.5 861.9a2.15 2.15 0 1 0 4.3 0a2.15 2.15 0 1 0 -4.3 0M269.8 861.9a2.15 2.15 0 1 0 4.3 0a2.15 2.15 0 1 0 -4.3 0M275.0 861.9a2.15 2.15 0 1 0 4.3 0a2.15 2.15 0 1 0 -4.3 0M280.3 861.9a2.15 2.15 0 1 0 4.3 0a2.15 2.15 0 1 0 -4.3 0M285.5 861.9a2.15 2.15 0 1 0 4.3 0a2.15 2.15 0 1 0 -4.3 0M290.8 861.9a2.15 2.15 0 1 0 4.3 0a2.15 2.15 0 1 0 -4.3 0M296.0 861.9a2.15 2.15 0 1 0 4.3 0a2.15 2.15 0 1 0 -4.3 0M301.3 861.9a2.15 2.15 0 1 0 4.3 0a2.15 2.15 0 1 0 -4.3 0M306.5 861.9a2.15 2.15 0 1 0 4.3 0a2.15 2.15 0 1 0 -4.3 0M311.8 861.9a2.15 2.15 0 1 0 4.3 0a2.15 2.15 0 1 0 -4.3 0M317.0 861.9a2.15 2.15 0 1 0 4.3 0a2.15 2.15 0 1 0 -4.3 0M256.7 866.5a2.15 2.15 0 1 0 4.3 0a2.15 2.15 0 1 0 -4.3 0M261.9 866.5a2.15 2.15 0 1 0 4.3 0a2.15 2.15 0 1 0 -4.3 0M267.2 866.5a2.15 2.15 0 1 0 4.3 0a2.15 2.15 0 1 0 -4.3 0M272.4 866.5a2.15 2.15 0 1 0 4.3 0a2.15 2.15 0 1 0 -4.3 0M277.7 866.5a2.15 2.15 0 1 0 4.3 0a2.15 2.15 0 1 0 -4.3 0M282.9 866.5a2.15 2.15 0 1 0 4.3 0a2.15 2.15 0 1 0 -4.3 0M288.2 866.5a2.15 2.15 0 1 0 4.3 0a2.15 2.15 0 1 0 -4.3 0M293.4 866.5a2.15 2.15 0 1 0 4.3 0a2.15 2.15 0 1 0 -4.3 0M298.7 866.5a2.15 2.15 0 1 0 4.3 0a2.15 2.15 0 1 0 -4.3 0M303.9 866.5a2.15 2.15 0 1 0 4.3 0a2.15 2.15 0 1 0 -4.3 0M309.2 866.5a2.15 2.15 0 1 0 4.3 0a2.15 2.15 0 1 0 -4.3 0M314.4 866.5a2.15 2.15 0 1 0 4.3 0a2.15 2.15 0 1 0 -4.3 0M259.3 871.1a2.15 2.15 0 1 0 4.3 0a2.15 2.15 0 1 0 -4.3 0M264.5 871.1a2.15 2.15 0 1 0 4.3 0a2.15 2.15 0 1 0 -4.3 0M269.8 871.1a2.15 2.15 0 1 0 4.3 0a2.15 2.15 0 1 0 -4.3 0M275.0 871.1a2.15 2.15 0 1 0 4.3 0a2.15 2.15 0 1 0 -4.3 0M280.3 871.1a2.15 2.15 0 1 0 4.3 0a2.15 2.15 0 1 0 -4.3 0M285.5 871.1a2.15 2.15 0 1 0 4.3 0a2.15 2.15 0 1 0 -4.3 0M290.8 871.1a2.15 2.15 0 1 0 4.3 0a2.15 2.15 0 1 0 -4.3 0M296.0 871.1a2.15 2.15 0 1 0 4.3 0a2.15 2.15 0 1 0 -4.3 0M301.3 871.1a2.15 2.15 0 1 0 4.3 0a2.15 2.15 0 1 0 -4.3 0M306.5 871.1a2.15 2.15 0 1 0 4.3 0a2.15 2.15 0 1 0 -4.3 0M311.8 871.1a2.15 2.15 0 1 0 4.3 0a2.15 2.15 0 1 0 -4.3 0M317.0 871.1a2.15 2.15 0 1 0 4.3 0a2.15 2.15 0 1 0 -4.3 0M256.7 875.8a2.15 2.15 0 1 0 4.3 0a2.15 2.15 0 1 0 -4.3 0M261.9 875.8a2.15 2.15 0 1 0 4.3 0a2.15 2.15 0 1 0 -4.3 0M267.2 875.8a2.15 2.15 0 1 0 4.3 0a2.15 2.15 0 1 0 -4.3 0M272.4 875.8a2.15 2.15 0 1 0 4.3 0a2.15 2.15 0 1 0 -4.3 0M277.7 875.8a2.15 2.15 0 1 0 4.3 0a2.15 2.15 0 1 0 -4.3 0M282.9 875.8a2.15 2.15 0 1 0 4.3 0a2.15 2.15 0 1 0 -4.3 0M288.2 875.8a2.15 2.15 0 1 0 4.3 0a2.15 2.15 0 1 0 -4.3 0M293.4 875.8a2.15 2.15 0 1 0 4.3 0a2.15 2.15 0 1 0 -4.3 0M298.7 875.8a2.15 2.15 0 1 0 4.3 0a2.15 2.15 0 1 0 -4.3 0M303.9 875.8a2.15 2.15 0 1 0 4.3 0a2.15 2.15 0 1 0 -4.3 0M309.2 875.8a2.15 2.15 0 1 0 4.3 0a2.15 2.15 0 1 0 -4.3 0M314.4 875.8a2.15 2.15 0 1 0 4.3 0a2.15 2.15 0 1 0 -4.3 0M259.3 880.5a2.15 2.15 0 1 0 4.3 0a2.15 2.15 0 1 0 -4.3 0M264.5 880.5a2.15 2.15 0 1 0 4.3 0a2.15 2.15 0 1 0 -4.3 0M269.8 880.5a2.15 2.15 0 1 0 4.3 0a2.15 2.15 0 1 0 -4.3 0M275.0 880.5a2.15 2.15 0 1 0 4.3 0a2.15 2.15 0 1 0 -4.3 0M280.3 880.5a2.15 2.15 0 1 0 4.3 0a2.15 2.15 0 1 0 -4.3 0M285.5 880.5a2.15 2.15 0 1 0 4.3 0a2.15 2.15 0 1 0 -4.3 0M290.8 880.5a2.15 2.15 0 1 0 4.3 0a2.15 2.15 0 1 0 -4.3 0M296.0 880.5a2.15 2.15 0 1 0 4.3 0a2.15 2.15 0 1 0 -4.3 0M301.3 880.5a2.15 2.15 0 1 0 4.3 0a2.15 2.15 0 1 0 -4.3 0M306.5 880.5a2.15 2.15 0 1 0 4.3 0a2.15 2.15 0 1 0 -4.3 0M311.8 880.5a2.15 2.15 0 1 0 4.3 0a2.15 2.15 0 1 0 -4.3 0M317.0 880.5a2.15 2.15 0 1 0 4.3 0a2.15 2.15 0 1 0 -4.3 0M190.3 888.0a2.15 2.15 0 1 0 4.3 0a2.15 2.15 0 1 0 -4.3 0M195.6 888.0a2.15 2.15 0 1 0 4.3 0a2.15 2.15 0 1 0 -4.3 0M200.8 888.0a2.15 2.15 0 1 0 4.3 0a2.15 2.15 0 1 0 -4.3 0M206.1 888.0a2.15 2.15 0 1 0 4.3 0a2.15 2.15 0 1 0 -4.3 0M211.3 888.0a2.15 2.15 0 1 0 4.3 0a2.15 2.15 0 1 0 -4.3 0M216.6 888.0a2.15 2.15 0 1 0 4.3 0a2.15 2.15 0 1 0 -4.3 0M221.8 888.0a2.15 2.15 0 1 0 4.3 0a2.15 2.15 0 1 0 -4.3 0M227.1 888.0a2.15 2.15 0 1 0 4.3 0a2.15 2.15 0 1 0 -4.3 0M232.3 888.0a2.15 2.15 0 1 0 4.3 0a2.15 2.15 0 1 0 -4.3 0M237.6 888.0a2.15 2.15 0 1 0 4.3 0a2.15 2.15 0 1 0 -4.3 0M242.8 888.0a2.15 2.15 0 1 0 4.3 0a2.15 2.15 0 1 0 -4.3 0M248.1 888.0a2.15 2.15 0 1 0 4.3 0a2.15 2.15 0 1 0 -4.3 0M193.0 892.6a2.15 2.15 0 1 0 4.3 0a2.15 2.15 0 1 0 -4.3 0M198.2 892.6a2.15 2.15 0 1 0 4.3 0a2.15 2.15 0 1 0 -4.3 0M203.5 892.6a2.15 2.15 0 1 0 4.3 0a2.15 2.15 0 1 0 -4.3 0M208.7 892.6a2.15 2.15 0 1 0 4.3 0a2.15 2.15 0 1 0 -4.3 0M214.0 892.6a2.15 2.15 0 1 0 4.3 0a2.15 2.15 0 1 0 -4.3 0M219.2 892.6a2.15 2.15 0 1 0 4.3 0a2.15 2.15 0 1 0 -4.3 0M224.5 892.6a2.15 2.15 0 1 0 4.3 0a2.15 2.15 0 1 0 -4.3 0M229.7 892.6a2.15 2.15 0 1 0 4.3 0a2.15 2.15 0 1 0 -4.3 0M235.0 892.6a2.15 2.15 0 1 0 4.3 0a2.15 2.15 0 1 0 -4.3 0M240.2 892.6a2.15 2.15 0 1 0 4.3 0a2.15 2.15 0 1 0 -4.3 0M245.5 892.6a2.15 2.15 0 1 0 4.3 0a2.15 2.15 0 1 0 -4.3 0M250.7 892.6a2.15 2.15 0 1 0 4.3 0a2.15 2.15 0 1 0 -4.3 0M190.3 897.3a2.15 2.15 0 1 0 4.3 0a2.15 2.15 0 1 0 -4.3 0M195.6 897.3a2.15 2.15 0 1 0 4.3 0a2.15 2.15 0 1 0 -4.3 0M200.8 897.3a2.15 2.15 0 1 0 4.3 0a2.15 2.15 0 1 0 -4.3 0M206.1 897.3a2.15 2.15 0 1 0 4.3 0a2.15 2.15 0 1 0 -4.3 0M211.3 897.3a2.15 2.15 0 1 0 4.3 0a2.15 2.15 0 1 0 -4.3 0M216.6 897.3a2.15 2.15 0 1 0 4.3 0a2.15 2.15 0 1 0 -4.3 0M221.8 897.3a2.15 2.15 0 1 0 4.3 0a2.15 2.15 0 1 0 -4.3 0M227.1 897.3a2.15 2.15 0 1 0 4.3 0a2.15 2.15 0 1 0 -4.3 0M232.3 897.3a2.15 2.15 0 1 0 4.3 0a2.15 2.15 0 1 0 -4.3 0M237.6 897.3a2.15 2.15 0 1 0 4.3 0a2.15 2.15 0 1 0 -4.3 0M242.8 897.3a2.15 2.15 0 1 0 4.3 0a2.15 2.15 0 1 0 -4.3 0M248.1 897.3a2.15 2.15 0 1 0 4.3 0a2.15 2.15 0 1 0 -4.3 0M193.0 902.0a2.15 2.15 0 1 0 4.3 0a2.15 2.15 0 1 0 -4.3 0M198.2 902.0a2.15 2.15 0 1 0 4.3 0a2.15 2.15 0 1 0 -4.3 0M203.5 902.0a2.15 2.15 0 1 0 4.3 0a2.15 2.15 0 1 0 -4.3 0M208.7 902.0a2.15 2.15 0 1 0 4.3 0a2.15 2.15 0 1 0 -4.3 0M214.0 902.0a2.15 2.15 0 1 0 4.3 0a2.15 2.15 0 1 0 -4.3 0M219.2 902.0a2.15 2.15 0 1 0 4.3 0a2.15 2.15 0 1 0 -4.3 0M224.5 902.0a2.15 2.15 0 1 0 4.3 0a2.15 2.15 0 1 0 -4.3 0M229.7 902.0a2.15 2.15 0 1 0 4.3 0a2.15 2.15 0 1 0 -4.3 0M235.0 902.0a2.15 2.15 0 1 0 4.3 0a2.15 2.15 0 1 0 -4.3 0M240.2 902.0a2.15 2.15 0 1 0 4.3 0a2.15 2.15 0 1 0 -4.3 0M245.5 902.0a2.15 2.15 0 1 0 4.3 0a2.15 2.15 0 1 0 -4.3 0M250.7 902.0a2.15 2.15 0 1 0 4.3 0a2.15 2.15 0 1 0 -4.3 0M190.3 906.6a2.15 2.15 0 1 0 4.3 0a2.15 2.15 0 1 0 -4.3 0M195.6 906.6a2.15 2.15 0 1 0 4.3 0a2.15 2.15 0 1 0 -4.3 0M200.8 906.6a2.15 2.15 0 1 0 4.3 0a2.15 2.15 0 1 0 -4.3 0M206.1 906.6a2.15 2.15 0 1 0 4.3 0a2.15 2.15 0 1 0 -4.3 0M211.3 906.6a2.15 2.15 0 1 0 4.3 0a2.15 2.15 0 1 0 -4.3 0M216.6 906.6a2.15 2.15 0 1 0 4.3 0a2.15 2.15 0 1 0 -4.3 0M221.8 906.6a2.15 2.15 0 1 0 4.3 0a2.15 2.15 0 1 0 -4.3 0M227.1 906.6a2.15 2.15 0 1 0 4.3 0a2.15 2.15 0 1 0 -4.3 0M232.3 906.6a2.15 2.15 0 1 0 4.3 0a2.15 2.15 0 1 0 -4.3 0M237.6 906.6a2.15 2.15 0 1 0 4.3 0a2.15 2.15 0 1 0 -4.3 0M242.8 906.6a2.15 2.15 0 1 0 4.3 0a2.15 2.15 0 1 0 -4.3 0M248.1 906.6a2.15 2.15 0 1 0 4.3 0a2.15 2.15 0 1 0 -4.3 0M193.0 911.2a2.15 2.15 0 1 0 4.3 0a2.15 2.15 0 1 0 -4.3 0M198.2 911.2a2.15 2.15 0 1 0 4.3 0a2.15 2.15 0 1 0 -4.3 0M203.5 911.2a2.15 2.15 0 1 0 4.3 0a2.15 2.15 0 1 0 -4.3 0M208.7 911.2a2.15 2.15 0 1 0 4.3 0a2.15 2.15 0 1 0 -4.3 0M214.0 911.2a2.15 2.15 0 1 0 4.3 0a2.15 2.15 0 1 0 -4.3 0M219.2 911.2a2.15 2.15 0 1 0 4.3 0a2.15 2.15 0 1 0 -4.3 0M224.5 911.2a2.15 2.15 0 1 0 4.3 0a2.15 2.15 0 1 0 -4.3 0M229.7 911.2a2.15 2.15 0 1 0 4.3 0a2.15 2.15 0 1 0 -4.3 0M235.0 911.2a2.15 2.15 0 1 0 4.3 0a2.15 2.15 0 1 0 -4.3 0M240.2 911.2a2.15 2.15 0 1 0 4.3 0a2.15 2.15 0 1 0 -4.3 0M245.5 911.2a2.15 2.15 0 1 0 4.3 0a2.15 2.15 0 1 0 -4.3 0M250.7 911.2a2.15 2.15 0 1 0 4.3 0a2.15 2.15 0 1 0 -4.3 0M190.3 915.9a2.15 2.15 0 1 0 4.3 0a2.15 2.15 0 1 0 -4.3 0M195.6 915.9a2.15 2.15 0 1 0 4.3 0a2.15 2.15 0 1 0 -4.3 0M200.8 915.9a2.15 2.15 0 1 0 4.3 0a2.15 2.15 0 1 0 -4.3 0M206.1 915.9a2.15 2.15 0 1 0 4.3 0a2.15 2.15 0 1 0 -4.3 0M211.3 915.9a2.15 2.15 0 1 0 4.3 0a2.15 2.15 0 1 0 -4.3 0M216.6 915.9a2.15 2.15 0 1 0 4.3 0a2.15 2.15 0 1 0 -4.3 0M221.8 915.9a2.15 2.15 0 1 0 4.3 0a2.15 2.15 0 1 0 -4.3 0M227.1 915.9a2.15 2.15 0 1 0 4.3 0a2.15 2.15 0 1 0 -4.3 0M232.3 915.9a2.15 2.15 0 1 0 4.3 0a2.15 2.15 0 1 0 -4.3 0M237.6 915.9a2.15 2.15 0 1 0 4.3 0a2.15 2.15 0 1 0 -4.3 0M242.8 915.9a2.15 2.15 0 1 0 4.3 0a2.15 2.15 0 1 0 -4.3 0M248.1 915.9a2.15 2.15 0 1 0 4.3 0a2.15 2.15 0 1 0 -4.3 0M193.0 920.5a2.15 2.15 0 1 0 4.3 0a2.15 2.15 0 1 0 -4.3 0M198.2 920.5a2.15 2.15 0 1 0 4.3 0a2.15 2.15 0 1 0 -4.3 0M203.5 920.5a2.15 2.15 0 1 0 4.3 0a2.15 2.15 0 1 0 -4.3 0M208.7 920.5a2.15 2.15 0 1 0 4.3 0a2.15 2.15 0 1 0 -4.3 0M214.0 920.5a2.15 2.15 0 1 0 4.3 0a2.15 2.15 0 1 0 -4.3 0M219.2 920.5a2.15 2.15 0 1 0 4.3 0a2.15 2.15 0 1 0 -4.3 0M224.5 920.5a2.15 2.15 0 1 0 4.3 0a2.15 2.15 0 1 0 -4.3 0M229.7 920.5a2.15 2.15 0 1 0 4.3 0a2.15 2.15 0 1 0 -4.3 0M235.0 920.5a2.15 2.15 0 1 0 4.3 0a2.15 2.15 0 1 0 -4.3 0M240.2 920.5a2.15 2.15 0 1 0 4.3 0a2.15 2.15 0 1 0 -4.3 0M245.5 920.5a2.15 2.15 0 1 0 4.3 0a2.15 2.15 0 1 0 -4.3 0M250.7 920.5a2.15 2.15 0 1 0 4.3 0a2.15 2.15 0 1 0 -4.3 0M190.3 925.2a2.15 2.15 0 1 0 4.3 0a2.15 2.15 0 1 0 -4.3 0M195.6 925.2a2.15 2.15 0 1 0 4.3 0a2.15 2.15 0 1 0 -4.3 0M200.8 925.2a2.15 2.15 0 1 0 4.3 0a2.15 2.15 0 1 0 -4.3 0M206.1 925.2a2.15 2.15 0 1 0 4.3 0a2.15 2.15 0 1 0 -4.3 0M211.3 925.2a2.15 2.15 0 1 0 4.3 0a2.15 2.15 0 1 0 -4.3 0M216.6 925.2a2.15 2.15 0 1 0 4.3 0a2.15 2.15 0 1 0 -4.3 0M221.8 925.2a2.15 2.15 0 1 0 4.3 0a2.15 2.15 0 1 0 -4.3 0M227.1 925.2a2.15 2.15 0 1 0 4.3 0a2.15 2.15 0 1 0 -4.3 0M232.3 925.2a2.15 2.15 0 1 0 4.3 0a2.15 2.15 0 1 0 -4.3 0M237.6 925.2a2.15 2.15 0 1 0 4.3 0a2.15 2.15 0 1 0 -4.3 0M242.8 925.2a2.15 2.15 0 1 0 4.3 0a2.15 2.15 0 1 0 -4.3 0M248.1 925.2a2.15 2.15 0 1 0 4.3 0a2.15 2.15 0 1 0 -4.3 0M193.0 929.9a2.15 2.15 0 1 0 4.3 0a2.15 2.15 0 1 0 -4.3 0M198.2 929.9a2.15 2.15 0 1 0 4.3 0a2.15 2.15 0 1 0 -4.3 0M203.5 929.9a2.15 2.15 0 1 0 4.3 0a2.15 2.15 0 1 0 -4.3 0M208.7 929.9a2.15 2.15 0 1 0 4.3 0a2.15 2.15 0 1 0 -4.3 0M214.0 929.9a2.15 2.15 0 1 0 4.3 0a2.15 2.15 0 1 0 -4.3 0M219.2 929.9a2.15 2.15 0 1 0 4.3 0a2.15 2.15 0 1 0 -4.3 0M224.5 929.9a2.15 2.15 0 1 0 4.3 0a2.15 2.15 0 1 0 -4.3 0M229.7 929.9a2.15 2.15 0 1 0 4.3 0a2.15 2.15 0 1 0 -4.3 0M235.0 929.9a2.15 2.15 0 1 0 4.3 0a2.15 2.15 0 1 0 -4.3 0M240.2 929.9a2.15 2.15 0 1 0 4.3 0a2.15 2.15 0 1 0 -4.3 0M245.5 929.9a2.15 2.15 0 1 0 4.3 0a2.15 2.15 0 1 0 -4.3 0M250.7 929.9a2.15 2.15 0 1 0 4.3 0a2.15 2.15 0 1 0 -4.3 0M190.3 934.5a2.15 2.15 0 1 0 4.3 0a2.15 2.15 0 1 0 -4.3 0M195.6 934.5a2.15 2.15 0 1 0 4.3 0a2.15 2.15 0 1 0 -4.3 0M200.8 934.5a2.15 2.15 0 1 0 4.3 0a2.15 2.15 0 1 0 -4.3 0M206.1 934.5a2.15 2.15 0 1 0 4.3 0a2.15 2.15 0 1 0 -4.3 0M211.3 934.5a2.15 2.15 0 1 0 4.3 0a2.15 2.15 0 1 0 -4.3 0M216.6 934.5a2.15 2.15 0 1 0 4.3 0a2.15 2.15 0 1 0 -4.3 0M221.8 934.5a2.15 2.15 0 1 0 4.3 0a2.15 2.15 0 1 0 -4.3 0M227.1 934.5a2.15 2.15 0 1 0 4.3 0a2.15 2.15 0 1 0 -4.3 0M232.3 934.5a2.15 2.15 0 1 0 4.3 0a2.15 2.15 0 1 0 -4.3 0M237.6 934.5a2.15 2.15 0 1 0 4.3 0a2.15 2.15 0 1 0 -4.3 0M242.8 934.5a2.15 2.15 0 1 0 4.3 0a2.15 2.15 0 1 0 -4.3 0M248.1 934.5a2.15 2.15 0 1 0 4.3 0a2.15 2.15 0 1 0 -4.3 0M193.0 939.1a2.15 2.15 0 1 0 4.3 0a2.15 2.15 0 1 0 -4.3 0M198.2 939.1a2.15 2.15 0 1 0 4.3 0a2.15 2.15 0 1 0 -4.3 0M203.5 939.1a2.15 2.15 0 1 0 4.3 0a2.15 2.15 0 1 0 -4.3 0M208.7 939.1a2.15 2.15 0 1 0 4.3 0a2.15 2.15 0 1 0 -4.3 0M214.0 939.1a2.15 2.15 0 1 0 4.3 0a2.15 2.15 0 1 0 -4.3 0M219.2 939.1a2.15 2.15 0 1 0 4.3 0a2.15 2.15 0 1 0 -4.3 0M224.5 939.1a2.15 2.15 0 1 0 4.3 0a2.15 2.15 0 1 0 -4.3 0M229.7 939.1a2.15 2.15 0 1 0 4.3 0a2.15 2.15 0 1 0 -4.3 0M235.0 939.1a2.15 2.15 0 1 0 4.3 0a2.15 2.15 0 1 0 -4.3 0M240.2 939.1a2.15 2.15 0 1 0 4.3 0a2.15 2.15 0 1 0 -4.3 0M245.5 939.1a2.15 2.15 0 1 0 4.3 0a2.15 2.15 0 1 0 -4.3 0M250.7 939.1a2.15 2.15 0 1 0 4.3 0a2.15 2.15 0 1 0 -4.3 0M190.3 943.8a2.15 2.15 0 1 0 4.3 0a2.15 2.15 0 1 0 -4.3 0M195.6 943.8a2.15 2.15 0 1 0 4.3 0a2.15 2.15 0 1 0 -4.3 0M200.8 943.8a2.15 2.15 0 1 0 4.3 0a2.15 2.15 0 1 0 -4.3 0M206.1 943.8a2.15 2.15 0 1 0 4.3 0a2.15 2.15 0 1 0 -4.3 0M211.3 943.8a2.15 2.15 0 1 0 4.3 0a2.15 2.15 0 1 0 -4.3 0M216.6 943.8a2.15 2.15 0 1 0 4.3 0a2.15 2.15 0 1 0 -4.3 0M221.8 943.8a2.15 2.15 0 1 0 4.3 0a2.15 2.15 0 1 0 -4.3 0M227.1 943.8a2.15 2.15 0 1 0 4.3 0a2.15 2.15 0 1 0 -4.3 0M232.3 943.8a2.15 2.15 0 1 0 4.3 0a2.15 2.15 0 1 0 -4.3 0M237.6 943.8a2.15 2.15 0 1 0 4.3 0a2.15 2.15 0 1 0 -4.3 0M242.8 943.8a2.15 2.15 0 1 0 4.3 0a2.15 2.15 0 1 0 -4.3 0M248.1 943.8a2.15 2.15 0 1 0 4.3 0a2.15 2.15 0 1 0 -4.3 0M193.0 948.5a2.15 2.15 0 1 0 4.3 0a2.15 2.15 0 1 0 -4.3 0M198.2 948.5a2.15 2.15 0 1 0 4.3 0a2.15 2.15 0 1 0 -4.3 0M203.5 948.5a2.15 2.15 0 1 0 4.3 0a2.15 2.15 0 1 0 -4.3 0M208.7 948.5a2.15 2.15 0 1 0 4.3 0a2.15 2.15 0 1 0 -4.3 0M214.0 948.5a2.15 2.15 0 1 0 4.3 0a2.15 2.15 0 1 0 -4.3 0M219.2 948.5a2.15 2.15 0 1 0 4.3 0a2.15 2.15 0 1 0 -4.3 0M224.5 948.5a2.15 2.15 0 1 0 4.3 0a2.15 2.15 0 1 0 -4.3 0M229.7 948.5a2.15 2.15 0 1 0 4.3 0a2.15 2.15 0 1 0 -4.3 0M235.0 948.5a2.15 2.15 0 1 0 4.3 0a2.15 2.15 0 1 0 -4.3 0M240.2 948.5a2.15 2.15 0 1 0 4.3 0a2.15 2.15 0 1 0 -4.3 0M245.5 948.5a2.15 2.15 0 1 0 4.3 0a2.15 2.15 0 1 0 -4.3 0M250.7 948.5a2.15 2.15 0 1 0 4.3 0a2.15 2.15 0 1 0 -4.3 0M257.4 888.1a2.15 2.15 0 1 0 4.3 0a2.15 2.15 0 1 0 -4.3 0M262.6 888.1a2.15 2.15 0 1 0 4.3 0a2.15 2.15 0 1 0 -4.3 0M267.9 888.1a2.15 2.15 0 1 0 4.3 0a2.15 2.15 0 1 0 -4.3 0M273.1 888.1a2.15 2.15 0 1 0 4.3 0a2.15 2.15 0 1 0 -4.3 0M278.4 888.1a2.15 2.15 0 1 0 4.3 0a2.15 2.15 0 1 0 -4.3 0M283.6 888.1a2.15 2.15 0 1 0 4.3 0a2.15 2.15 0 1 0 -4.3 0M288.9 888.1a2.15 2.15 0 1 0 4.3 0a2.15 2.15 0 1 0 -4.3 0M294.1 888.1a2.15 2.15 0 1 0 4.3 0a2.15 2.15 0 1 0 -4.3 0M299.4 888.1a2.15 2.15 0 1 0 4.3 0a2.15 2.15 0 1 0 -4.3 0M304.6 888.1a2.15 2.15 0 1 0 4.3 0a2.15 2.15 0 1 0 -4.3 0M309.9 888.1a2.15 2.15 0 1 0 4.3 0a2.15 2.15 0 1 0 -4.3 0M315.1 888.1a2.15 2.15 0 1 0 4.3 0a2.15 2.15 0 1 0 -4.3 0M260.0 892.8a2.15 2.15 0 1 0 4.3 0a2.15 2.15 0 1 0 -4.3 0M265.2 892.8a2.15 2.15 0 1 0 4.3 0a2.15 2.15 0 1 0 -4.3 0M270.5 892.8a2.15 2.15 0 1 0 4.3 0a2.15 2.15 0 1 0 -4.3 0M275.7 892.8a2.15 2.15 0 1 0 4.3 0a2.15 2.15 0 1 0 -4.3 0M281.0 892.8a2.15 2.15 0 1 0 4.3 0a2.15 2.15 0 1 0 -4.3 0M286.2 892.8a2.15 2.15 0 1 0 4.3 0a2.15 2.15 0 1 0 -4.3 0M291.5 892.8a2.15 2.15 0 1 0 4.3 0a2.15 2.15 0 1 0 -4.3 0M296.7 892.8a2.15 2.15 0 1 0 4.3 0a2.15 2.15 0 1 0 -4.3 0M302.0 892.8a2.15 2.15 0 1 0 4.3 0a2.15 2.15 0 1 0 -4.3 0M307.2 892.8a2.15 2.15 0 1 0 4.3 0a2.15 2.15 0 1 0 -4.3 0M312.5 892.8a2.15 2.15 0 1 0 4.3 0a2.15 2.15 0 1 0 -4.3 0M317.7 892.8a2.15 2.15 0 1 0 4.3 0a2.15 2.15 0 1 0 -4.3 0M257.4 897.4a2.15 2.15 0 1 0 4.3 0a2.15 2.15 0 1 0 -4.3 0M262.6 897.4a2.15 2.15 0 1 0 4.3 0a2.15 2.15 0 1 0 -4.3 0M267.9 897.4a2.15 2.15 0 1 0 4.3 0a2.15 2.15 0 1 0 -4.3 0M273.1 897.4a2.15 2.15 0 1 0 4.3 0a2.15 2.15 0 1 0 -4.3 0M278.4 897.4a2.15 2.15 0 1 0 4.3 0a2.15 2.15 0 1 0 -4.3 0M283.6 897.4a2.15 2.15 0 1 0 4.3 0a2.15 2.15 0 1 0 -4.3 0M288.9 897.4a2.15 2.15 0 1 0 4.3 0a2.15 2.15 0 1 0 -4.3 0M294.1 897.4a2.15 2.15 0 1 0 4.3 0a2.15 2.15 0 1 0 -4.3 0M299.4 897.4a2.15 2.15 0 1 0 4.3 0a2.15 2.15 0 1 0 -4.3 0M304.6 897.4a2.15 2.15 0 1 0 4.3 0a2.15 2.15 0 1 0 -4.3 0M309.9 897.4a2.15 2.15 0 1 0 4.3 0a2.15 2.15 0 1 0 -4.3 0M315.1 897.4a2.15 2.15 0 1 0 4.3 0a2.15 2.15 0 1 0 -4.3 0M260.0 902.1a2.15 2.15 0 1 0 4.3 0a2.15 2.15 0 1 0 -4.3 0M265.2 902.1a2.15 2.15 0 1 0 4.3 0a2.15 2.15 0 1 0 -4.3 0M270.5 902.1a2.15 2.15 0 1 0 4.3 0a2.15 2.15 0 1 0 -4.3 0M275.7 902.1a2.15 2.15 0 1 0 4.3 0a2.15 2.15 0 1 0 -4.3 0M281.0 902.1a2.15 2.15 0 1 0 4.3 0a2.15 2.15 0 1 0 -4.3 0M286.2 902.1a2.15 2.15 0 1 0 4.3 0a2.15 2.15 0 1 0 -4.3 0M291.5 902.1a2.15 2.15 0 1 0 4.3 0a2.15 2.15 0 1 0 -4.3 0M296.7 902.1a2.15 2.15 0 1 0 4.3 0a2.15 2.15 0 1 0 -4.3 0M302.0 902.1a2.15 2.15 0 1 0 4.3 0a2.15 2.15 0 1 0 -4.3 0M307.2 902.1a2.15 2.15 0 1 0 4.3 0a2.15 2.15 0 1 0 -4.3 0M312.5 902.1a2.15 2.15 0 1 0 4.3 0a2.15 2.15 0 1 0 -4.3 0M317.7 902.1a2.15 2.15 0 1 0 4.3 0a2.15 2.15 0 1 0 -4.3 0M257.4 906.7a2.15 2.15 0 1 0 4.3 0a2.15 2.15 0 1 0 -4.3 0M262.6 906.7a2.15 2.15 0 1 0 4.3 0a2.15 2.15 0 1 0 -4.3 0M267.9 906.7a2.15 2.15 0 1 0 4.3 0a2.15 2.15 0 1 0 -4.3 0M273.1 906.7a2.15 2.15 0 1 0 4.3 0a2.15 2.15 0 1 0 -4.3 0M278.4 906.7a2.15 2.15 0 1 0 4.3 0a2.15 2.15 0 1 0 -4.3 0M283.6 906.7a2.15 2.15 0 1 0 4.3 0a2.15 2.15 0 1 0 -4.3 0M288.9 906.7a2.15 2.15 0 1 0 4.3 0a2.15 2.15 0 1 0 -4.3 0M294.1 906.7a2.15 2.15 0 1 0 4.3 0a2.15 2.15 0 1 0 -4.3 0M299.4 906.7a2.15 2.15 0 1 0 4.3 0a2.15 2.15 0 1 0 -4.3 0M304.6 906.7a2.15 2.15 0 1 0 4.3 0a2.15 2.15 0 1 0 -4.3 0M309.9 906.7a2.15 2.15 0 1 0 4.3 0a2.15 2.15 0 1 0 -4.3 0M315.1 906.7a2.15 2.15 0 1 0 4.3 0a2.15 2.15 0 1 0 -4.3 0M260.0 911.4a2.15 2.15 0 1 0 4.3 0a2.15 2.15 0 1 0 -4.3 0M265.2 911.4a2.15 2.15 0 1 0 4.3 0a2.15 2.15 0 1 0 -4.3 0M270.5 911.4a2.15 2.15 0 1 0 4.3 0a2.15 2.15 0 1 0 -4.3 0M275.7 911.4a2.15 2.15 0 1 0 4.3 0a2.15 2.15 0 1 0 -4.3 0M281.0 911.4a2.15 2.15 0 1 0 4.3 0a2.15 2.15 0 1 0 -4.3 0M286.2 911.4a2.15 2.15 0 1 0 4.3 0a2.15 2.15 0 1 0 -4.3 0M291.5 911.4a2.15 2.15 0 1 0 4.3 0a2.15 2.15 0 1 0 -4.3 0M296.7 911.4a2.15 2.15 0 1 0 4.3 0a2.15 2.15 0 1 0 -4.3 0M302.0 911.4a2.15 2.15 0 1 0 4.3 0a2.15 2.15 0 1 0 -4.3 0M307.2 911.4a2.15 2.15 0 1 0 4.3 0a2.15 2.15 0 1 0 -4.3 0M312.5 911.4a2.15 2.15 0 1 0 4.3 0a2.15 2.15 0 1 0 -4.3 0M317.7 911.4a2.15 2.15 0 1 0 4.3 0a2.15 2.15 0 1 0 -4.3 0M257.4 916.0a2.15 2.15 0 1 0 4.3 0a2.15 2.15 0 1 0 -4.3 0M262.6 916.0a2.15 2.15 0 1 0 4.3 0a2.15 2.15 0 1 0 -4.3 0M267.9 916.0a2.15 2.15 0 1 0 4.3 0a2.15 2.15 0 1 0 -4.3 0M273.1 916.0a2.15 2.15 0 1 0 4.3 0a2.15 2.15 0 1 0 -4.3 0M278.4 916.0a2.15 2.15 0 1 0 4.3 0a2.15 2.15 0 1 0 -4.3 0M283.6 916.0a2.15 2.15 0 1 0 4.3 0a2.15 2.15 0 1 0 -4.3 0M288.9 916.0a2.15 2.15 0 1 0 4.3 0a2.15 2.15 0 1 0 -4.3 0M294.1 916.0a2.15 2.15 0 1 0 4.3 0a2.15 2.15 0 1 0 -4.3 0M299.4 916.0a2.15 2.15 0 1 0 4.3 0a2.15 2.15 0 1 0 -4.3 0M304.6 916.0a2.15 2.15 0 1 0 4.3 0a2.15 2.15 0 1 0 -4.3 0M309.9 916.0a2.15 2.15 0 1 0 4.3 0a2.15 2.15 0 1 0 -4.3 0M315.1 916.0a2.15 2.15 0 1 0 4.3 0a2.15 2.15 0 1 0 -4.3 0M260.0 920.6a2.15 2.15 0 1 0 4.3 0a2.15 2.15 0 1 0 -4.3 0M265.2 920.6a2.15 2.15 0 1 0 4.3 0a2.15 2.15 0 1 0 -4.3 0M270.5 920.6a2.15 2.15 0 1 0 4.3 0a2.15 2.15 0 1 0 -4.3 0M275.7 920.6a2.15 2.15 0 1 0 4.3 0a2.15 2.15 0 1 0 -4.3 0M281.0 920.6a2.15 2.15 0 1 0 4.3 0a2.15 2.15 0 1 0 -4.3 0M286.2 920.6a2.15 2.15 0 1 0 4.3 0a2.15 2.15 0 1 0 -4.3 0M291.5 920.6a2.15 2.15 0 1 0 4.3 0a2.15 2.15 0 1 0 -4.3 0M296.7 920.6a2.15 2.15 0 1 0 4.3 0a2.15 2.15 0 1 0 -4.3 0M302.0 920.6a2.15 2.15 0 1 0 4.3 0a2.15 2.15 0 1 0 -4.3 0M307.2 920.6a2.15 2.15 0 1 0 4.3 0a2.15 2.15 0 1 0 -4.3 0M312.5 920.6a2.15 2.15 0 1 0 4.3 0a2.15 2.15 0 1 0 -4.3 0M317.7 920.6a2.15 2.15 0 1 0 4.3 0a2.15 2.15 0 1 0 -4.3 0M257.4 925.3a2.15 2.15 0 1 0 4.3 0a2.15 2.15 0 1 0 -4.3 0M262.6 925.3a2.15 2.15 0 1 0 4.3 0a2.15 2.15 0 1 0 -4.3 0M267.9 925.3a2.15 2.15 0 1 0 4.3 0a2.15 2.15 0 1 0 -4.3 0M273.1 925.3a2.15 2.15 0 1 0 4.3 0a2.15 2.15 0 1 0 -4.3 0M278.4 925.3a2.15 2.15 0 1 0 4.3 0a2.15 2.15 0 1 0 -4.3 0M283.6 925.3a2.15 2.15 0 1 0 4.3 0a2.15 2.15 0 1 0 -4.3 0M288.9 925.3a2.15 2.15 0 1 0 4.3 0a2.15 2.15 0 1 0 -4.3 0M294.1 925.3a2.15 2.15 0 1 0 4.3 0a2.15 2.15 0 1 0 -4.3 0M299.4 925.3a2.15 2.15 0 1 0 4.3 0a2.15 2.15 0 1 0 -4.3 0M304.6 925.3a2.15 2.15 0 1 0 4.3 0a2.15 2.15 0 1 0 -4.3 0M309.9 925.3a2.15 2.15 0 1 0 4.3 0a2.15 2.15 0 1 0 -4.3 0M315.1 925.3a2.15 2.15 0 1 0 4.3 0a2.15 2.15 0 1 0 -4.3 0M260.0 930.0a2.15 2.15 0 1 0 4.3 0a2.15 2.15 0 1 0 -4.3 0M265.2 930.0a2.15 2.15 0 1 0 4.3 0a2.15 2.15 0 1 0 -4.3 0M270.5 930.0a2.15 2.15 0 1 0 4.3 0a2.15 2.15 0 1 0 -4.3 0M275.7 930.0a2.15 2.15 0 1 0 4.3 0a2.15 2.15 0 1 0 -4.3 0M281.0 930.0a2.15 2.15 0 1 0 4.3 0a2.15 2.15 0 1 0 -4.3 0M286.2 930.0a2.15 2.15 0 1 0 4.3 0a2.15 2.15 0 1 0 -4.3 0M291.5 930.0a2.15 2.15 0 1 0 4.3 0a2.15 2.15 0 1 0 -4.3 0M296.7 930.0a2.15 2.15 0 1 0 4.3 0a2.15 2.15 0 1 0 -4.3 0M302.0 930.0a2.15 2.15 0 1 0 4.3 0a2.15 2.15 0 1 0 -4.3 0M307.2 930.0a2.15 2.15 0 1 0 4.3 0a2.15 2.15 0 1 0 -4.3 0M312.5 930.0a2.15 2.15 0 1 0 4.3 0a2.15 2.15 0 1 0 -4.3 0M317.7 930.0a2.15 2.15 0 1 0 4.3 0a2.15 2.15 0 1 0 -4.3 0M257.4 934.6a2.15 2.15 0 1 0 4.3 0a2.15 2.15 0 1 0 -4.3 0M262.6 934.6a2.15 2.15 0 1 0 4.3 0a2.15 2.15 0 1 0 -4.3 0M267.9 934.6a2.15 2.15 0 1 0 4.3 0a2.15 2.15 0 1 0 -4.3 0M273.1 934.6a2.15 2.15 0 1 0 4.3 0a2.15 2.15 0 1 0 -4.3 0M278.4 934.6a2.15 2.15 0 1 0 4.3 0a2.15 2.15 0 1 0 -4.3 0M283.6 934.6a2.15 2.15 0 1 0 4.3 0a2.15 2.15 0 1 0 -4.3 0M288.9 934.6a2.15 2.15 0 1 0 4.3 0a2.15 2.15 0 1 0 -4.3 0M294.1 934.6a2.15 2.15 0 1 0 4.3 0a2.15 2.15 0 1 0 -4.3 0M299.4 934.6a2.15 2.15 0 1 0 4.3 0a2.15 2.15 0 1 0 -4.3 0M304.6 934.6a2.15 2.15 0 1 0 4.3 0a2.15 2.15 0 1 0 -4.3 0M309.9 934.6a2.15 2.15 0 1 0 4.3 0a2.15 2.15 0 1 0 -4.3 0M315.1 934.6a2.15 2.15 0 1 0 4.3 0a2.15 2.15 0 1 0 -4.3 0M260.0 939.2a2.15 2.15 0 1 0 4.3 0a2.15 2.15 0 1 0 -4.3 0M265.2 939.2a2.15 2.15 0 1 0 4.3 0a2.15 2.15 0 1 0 -4.3 0M270.5 939.2a2.15 2.15 0 1 0 4.3 0a2.15 2.15 0 1 0 -4.3 0M275.7 939.2a2.15 2.15 0 1 0 4.3 0a2.15 2.15 0 1 0 -4.3 0M281.0 939.2a2.15 2.15 0 1 0 4.3 0a2.15 2.15 0 1 0 -4.3 0M286.2 939.2a2.15 2.15 0 1 0 4.3 0a2.15 2.15 0 1 0 -4.3 0M291.5 939.2a2.15 2.15 0 1 0 4.3 0a2.15 2.15 0 1 0 -4.3 0M296.7 939.2a2.15 2.15 0 1 0 4.3 0a2.15 2.15 0 1 0 -4.3 0M302.0 939.2a2.15 2.15 0 1 0 4.3 0a2.15 2.15 0 1 0 -4.3 0M307.2 939.2a2.15 2.15 0 1 0 4.3 0a2.15 2.15 0 1 0 -4.3 0M312.5 939.2a2.15 2.15 0 1 0 4.3 0a2.15 2.15 0 1 0 -4.3 0M317.7 939.2a2.15 2.15 0 1 0 4.3 0a2.15 2.15 0 1 0 -4.3 0M257.4 943.9a2.15 2.15 0 1 0 4.3 0a2.15 2.15 0 1 0 -4.3 0M262.6 943.9a2.15 2.15 0 1 0 4.3 0a2.15 2.15 0 1 0 -4.3 0M267.9 943.9a2.15 2.15 0 1 0 4.3 0a2.15 2.15 0 1 0 -4.3 0M273.1 943.9a2.15 2.15 0 1 0 4.3 0a2.15 2.15 0 1 0 -4.3 0M278.4 943.9a2.15 2.15 0 1 0 4.3 0a2.15 2.15 0 1 0 -4.3 0M283.6 943.9a2.15 2.15 0 1 0 4.3 0a2.15 2.15 0 1 0 -4.3 0M288.9 943.9a2.15 2.15 0 1 0 4.3 0a2.15 2.15 0 1 0 -4.3 0M294.1 943.9a2.15 2.15 0 1 0 4.3 0a2.15 2.15 0 1 0 -4.3 0M299.4 943.9a2.15 2.15 0 1 0 4.3 0a2.15 2.15 0 1 0 -4.3 0M304.6 943.9a2.15 2.15 0 1 0 4.3 0a2.15 2.15 0 1 0 -4.3 0M309.9 943.9a2.15 2.15 0 1 0 4.3 0a2.15 2.15 0 1 0 -4.3 0M315.1 943.9a2.15 2.15 0 1 0 4.3 0a2.15 2.15 0 1 0 -4.3 0M260.0 948.6a2.15 2.15 0 1 0 4.3 0a2.15 2.15 0 1 0 -4.3 0M265.2 948.6a2.15 2.15 0 1 0 4.3 0a2.15 2.15 0 1 0 -4.3 0M270.5 948.6a2.15 2.15 0 1 0 4.3 0a2.15 2.15 0 1 0 -4.3 0M275.7 948.6a2.15 2.15 0 1 0 4.3 0a2.15 2.15 0 1 0 -4.3 0M281.0 948.6a2.15 2.15 0 1 0 4.3 0a2.15 2.15 0 1 0 -4.3 0M286.2 948.6a2.15 2.15 0 1 0 4.3 0a2.15 2.15 0 1 0 -4.3 0M291.5 948.6a2.15 2.15 0 1 0 4.3 0a2.15 2.15 0 1 0 -4.3 0M296.7 948.6a2.15 2.15 0 1 0 4.3 0a2.15 2.15 0 1 0 -4.3 0M302.0 948.6a2.15 2.15 0 1 0 4.3 0a2.15 2.15 0 1 0 -4.3 0M307.2 948.6a2.15 2.15 0 1 0 4.3 0a2.15 2.15 0 1 0 -4.3 0M312.5 948.6a2.15 2.15 0 1 0 4.3 0a2.15 2.15 0 1 0 -4.3 0M317.7 948.6a2.15 2.15 0 1 0 4.3 0a2.15 2.15 0 1 0 -4.3 0"/>
<rect x="295.7" y="849.7" width="25.9" height="4.5" fill="#f0a0a8" fill-opacity="0.12" stroke="#e8a0a8" stroke-width="0.7"/>
<!-- oligo substrate -->
<rect x="358.8" y="859.5" width="175" height="38" fill="#a9cae6" stroke="#84a9cc" stroke-width="1.1"/>
<g fill="#ffffff">
<rect x="372" y="860" width="18" height="9"/><rect x="404.5" y="860" width="18" height="9"/><rect x="437" y="860" width="18" height="9"/><rect x="469.5" y="860" width="18" height="9"/><rect x="501.5" y="860" width="18" height="9"/>
</g>
<g fill="#4a86c2" stroke="#3f78b0" stroke-width="0.6">
<circle cx="380.9" cy="859.8" r="8.8"/><circle cx="413.4" cy="859.8" r="8.8"/><circle cx="446" cy="859.8" r="8.8"/><circle cx="478.5" cy="859.8" r="8.8"/><circle cx="510.5" cy="859.8" r="8.8"/>
</g>
<g stroke="#8a9096" stroke-width="0.75" fill="none" id="strands">
<path d="M374.4 853.5q2.1 -2.00 0 -4.00q-2.1 -2.00 0 -4.00q2.1 -2.00 0 -4.00"/><path d="M378.6 851.2q2.1 -2.07 0 -4.13q-2.1 -2.07 0 -4.13q2.1 -2.07 0 -4.13"/><path d="M383.2 851.2q2.1 -2.12 0 -4.23q-2.1 -2.12 0 -4.23q2.1 -2.12 0 -4.23"/><path d="M387.5 853.5q2.1 -2.03 0 -4.07q-2.1 -2.03 0 -4.07q2.1 -2.03 0 -4.07"/><path d="M406.9 853.5q2.1 -2.00 0 -4.00q-2.1 -2.00 0 -4.00q2.1 -2.00 0 -4.00"/><path d="M411.1 851.2q2.1 -2.07 0 -4.13q-2.1 -2.07 0 -4.13q2.1 -2.07 0 -4.13"/><path d="M415.7 851.2q2.1 -2.12 0 -4.23q-2.1 -2.12 0 -4.23q2.1 -2.12 0 -4.23"/><path d="M420.0 853.5q2.1 -2.03 0 -4.07q-2.1 -2.03 0 -4.07q2.1 -2.03 0 -4.07"/><path d="M439.5 853.5q2.1 -2.00 0 -4.00q-2.1 -2.00 0 -4.00q2.1 -2.00 0 -4.00"/><path d="M443.7 851.2q2.1 -2.07 0 -4.13q-2.1 -2.07 0 -4.13q2.1 -2.07 0 -4.13"/><path d="M448.3 851.2q2.1 -2.12 0 -4.23q-2.1 -2.12 0 -4.23q2.1 -2.12 0 -4.23"/><path d="M452.6 853.5q2.1 -2.03 0 -4.07q-2.1 -2.03 0 -4.07q2.1 -2.03 0 -4.07"/><path d="M472.0 853.5q2.1 -2.00 0 -4.00q-2.1 -2.00 0 -4.00q2.1 -2.00 0 -4.00"/><path d="M476.2 851.2q2.1 -2.07 0 -4.13q-2.1 -2.07 0 -4.13q2.1 -2.07 0 -4.13"/><path d="M480.8 851.2q2.1 -2.12 0 -4.23q-2.1 -2.12 0 -4.23q2.1 -2.12 0 -4.23"/><path d="M485.1 853.5q2.1 -2.03 0 -4.07q-2.1 -2.03 0 -4.07q2.1 -2.03 0 -4.07"/><path d="M504.0 853.5q2.1 -2.00 0 -4.00q-2.1 -2.00 0 -4.00q2.1 -2.00 0 -4.00"/><path d="M508.2 851.2q2.1 -2.07 0 -4.13q-2.1 -2.07 0 -4.13q2.1 -2.07 0 -4.13"/><path d="M512.8 851.2q2.1 -2.12 0 -4.23q-2.1 -2.12 0 -4.23q2.1 -2.12 0 -4.23"/><path d="M517.1 853.5q2.1 -2.03 0 -4.07q-2.1 -2.03 0 -4.07q2.1 -2.03 0 -4.07"/></g>
<g stroke="#333" stroke-width="0.7" fill="none">
<path d="M380.9 832.5V859.8M413.4 832.5V859.8M381.2 832.5H413.1M436.3 832.5V860M454.6 832.5V860M436.6 832.5H454.3"/>
<path d="M384 830.5L381.2 832.5L384 834.5M410.3 830.5L413.1 832.5L410.3 834.5M439 830.8L436.6 832.5L439 834.2M451.9 830.8L454.3 832.5L451.9 834.2"/>
</g>
<text x="399" y="830" text-anchor="middle" font-family="Liberation Sans" font-size="8.8" fill="#000" stroke="#000" stroke-width="0.25">4.8 μm</text>
<text x="448.5" y="830" text-anchor="middle" font-family="Liberation Sans" font-size="8.8" fill="#000" stroke="#000" stroke-width="0.25">2.5 μm</text>
<!-- oligo bar -->
<path d="M356.3 911.3H383.5Q391 932 383.5 953H356.3Z" fill="#4a84bf"/>
<text x="370.5" y="935" text-anchor="middle" font-family="Liberation Serif" font-size="7.6" fill="#24364a">Beads</text>
<path d="M388.5 932.2H399" stroke="#9a9a9a" stroke-width="1.3"/>
<g stroke-linecap="round" stroke-width="4">
<path d="M400.8 932.2H430.2" stroke="#a9a9a9"/>
<path d="M435.8 932.2H481" stroke="#6d96cf"/>
<path d="M486.3 932.2H501.8" stroke="#e39a7a"/>
<path d="M507 932.2H536.8" stroke="#f2c462"/>
</g>
<g stroke="#555" stroke-width="0.6" fill="none">
<path d="M398.8 913.8V930M432.5 913.8V930M484 913.8V930M504.5 913.8V930M538.8 913.8V930"/>
<path d="M399.2 914.5H432.1M432.9 914.5H483.6M484.4 914.5H504.1M504.9 914.5H538.4"/>
<path d="M401 913L399.2 914.5L401 916M430.3 913L432.1 914.5L430.3 916M434.7 913L432.9 914.5L434.7 916M481.8 913L483.6 914.5L481.8 916M486.2 913L484.4 914.5L486.2 916M502.3 913L504.1 914.5L502.3 916M506.7 913L504.9 914.5L506.7 916M536.6 913L538.4 914.5L536.6 916"/>
</g>
<g font-family="Liberation Serif" font-size="6.9" fill="#3a3a3a" text-anchor="middle">
<text x="415.5" y="910">Read1</text><text x="458" y="910">Spatial Barcode</text><text x="494.5" y="910">UMI</text><text x="522" y="910">Poly(dT)VN</text>
</g>
<!-- info box -->
<rect x="550.4" y="828.5" width="200.9" height="135.2" rx="11.5" ry="11.5" fill="#e1e1e1" stroke="#555" stroke-width="0.9" stroke-dasharray="1.2 1.2"/>
</svg>
<!--/FIG-->


<!-- info box text -->
<div class="abs" style="left:552px;top:838.2px;width:201px;text-align:center;font-weight:bold;font-size:13.6px;letter-spacing:1.3px;line-height:18px;color:#1e1e1e;-webkit-text-stroke:0.3px #1e1e1e">百创智造</div>
<div class="abs info" style="top:858.5px">面积<span class="ic">:</span><span class="s">6.8 mm×6.8 mm</span></div>
<div class="abs info" style="top:878px"><span class="s">1~8</span>个捕获区域</div>
<div class="abs info" style="top:897px">捕获点<span class="ic">:</span><span class="s">~200</span>万个</div>
<div class="abs info" style="top:916.5px">捕获点直径<span class="ic">:</span><span class="s">2.5 μm</span></div>
<div class="abs info" style="top:936px">中心距离为<span class="ic">:</span><span class="s">4.8 μm</span>。</div>
<div class="cap" style="left:47px;top:972.5px;font-size:13.4px;letter-spacing:0.05px">BMKMANU S1000</div>
<div class="cap" style="left:205.5px;top:972.5px;font-size:13.5px">Microsphere array</div>
<div class="cap" style="left:428.5px;top:972.5px">Oligo</div>

</body></html>
